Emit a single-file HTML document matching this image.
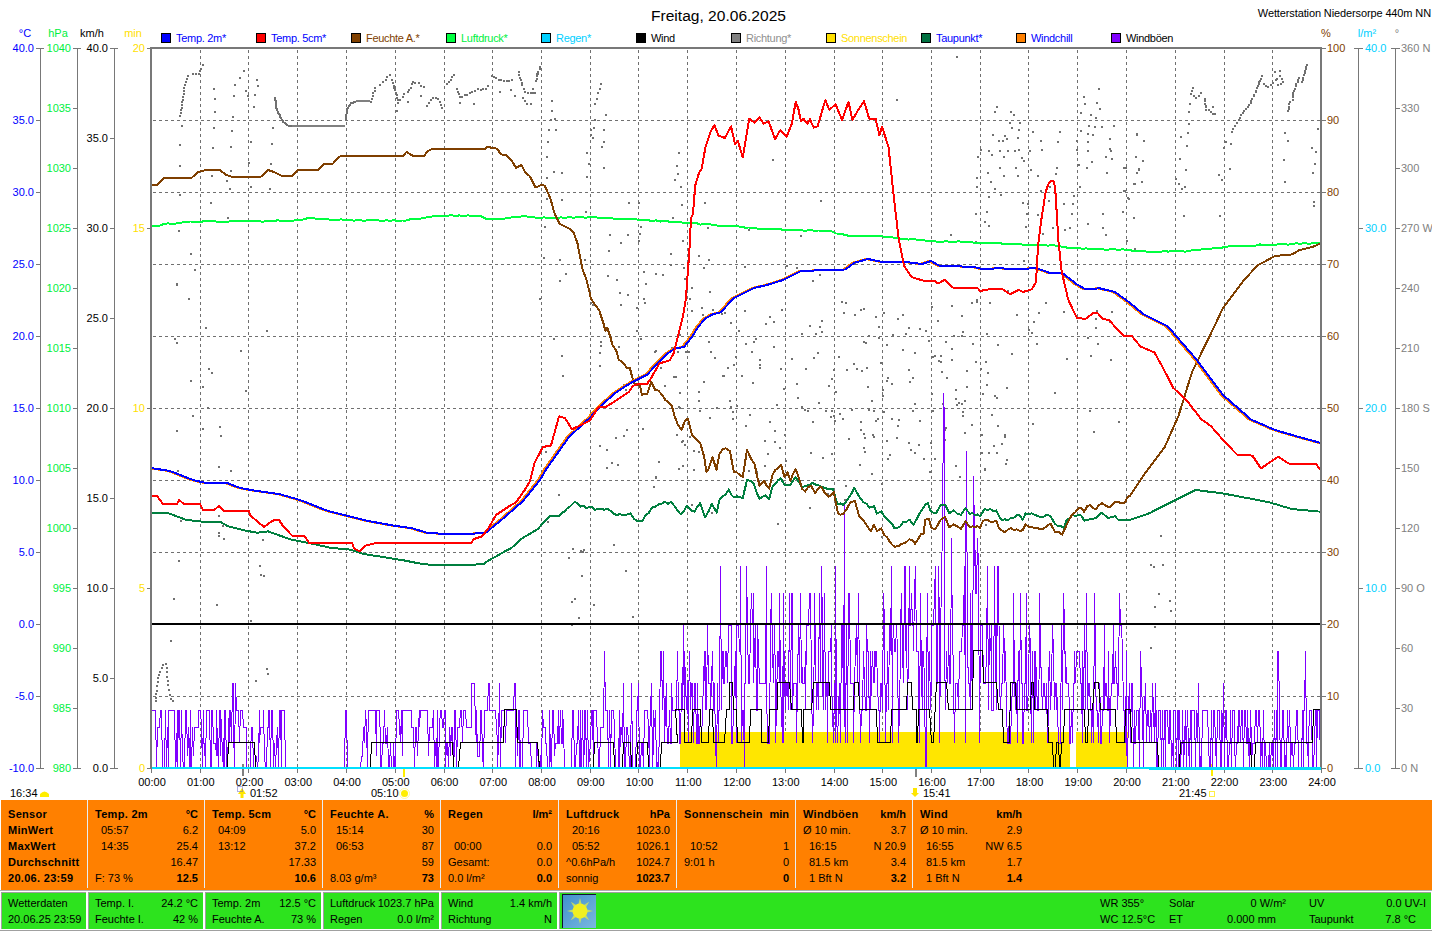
<!DOCTYPE html>
<html><head><meta charset="utf-8"><style>
html,body{margin:0;padding:0;background:#fff;width:1432px;height:931px;overflow:hidden}
svg{display:block}
text{font-family:"Liberation Sans",sans-serif}
</style></head><body>
<svg width="1432" height="931" viewBox="0 0 1432 931">
<text x="651" y="21" fill="#000" font-size="15.5" text-anchor="start" font-weight="normal" textLength="135" lengthAdjust="spacingAndGlyphs">Freitag, 20.06.2025</text>
<text x="1431" y="17" fill="#000" font-size="11" text-anchor="end" font-weight="normal" letter-spacing="-0.12">Wetterstation Niedersorpe 440m NN</text>
<rect x="161.5" y="33.5" width="9" height="9" fill="#0000ff" stroke="#000" stroke-width="1"/>
<text x="176" y="42" fill="#0000ff" font-size="11" text-anchor="start" font-weight="normal" letter-spacing="-0.3">Temp. 2m*</text>
<rect x="256.5" y="33.5" width="9" height="9" fill="#ff0000" stroke="#000" stroke-width="1"/>
<text x="271" y="42" fill="#0000ff" font-size="11" text-anchor="start" font-weight="normal" letter-spacing="-0.3">Temp. 5cm*</text>
<rect x="351.5" y="33.5" width="9" height="9" fill="#804000" stroke="#000" stroke-width="1"/>
<text x="366" y="42" fill="#804000" font-size="11" text-anchor="start" font-weight="normal" letter-spacing="-0.3">Feuchte A.*</text>
<rect x="446.5" y="33.5" width="9" height="9" fill="#00ff40" stroke="#000" stroke-width="1"/>
<text x="461" y="42" fill="#00f040" font-size="11" text-anchor="start" font-weight="normal" letter-spacing="-0.3">Luftdruck*</text>
<rect x="541.5" y="33.5" width="9" height="9" fill="#00d0ff" stroke="#000" stroke-width="1"/>
<text x="556" y="42" fill="#00d0ff" font-size="11" text-anchor="start" font-weight="normal" letter-spacing="-0.3">Regen*</text>
<rect x="636.5" y="33.5" width="9" height="9" fill="#000000" stroke="#000" stroke-width="1"/>
<text x="651" y="42" fill="#000" font-size="11" text-anchor="start" font-weight="normal" letter-spacing="-0.3">Wind</text>
<rect x="731.5" y="33.5" width="9" height="9" fill="#808080" stroke="#000" stroke-width="1"/>
<text x="746" y="42" fill="#909090" font-size="11" text-anchor="start" font-weight="normal" letter-spacing="-0.3">Richtung*</text>
<rect x="826.5" y="33.5" width="9" height="9" fill="#ffe000" stroke="#000" stroke-width="1"/>
<text x="841" y="42" fill="#ffe000" font-size="11" text-anchor="start" font-weight="normal" letter-spacing="-0.3">Sonnenschein</text>
<rect x="921.5" y="33.5" width="9" height="9" fill="#007040" stroke="#000" stroke-width="1"/>
<text x="936" y="42" fill="#0000ff" font-size="11" text-anchor="start" font-weight="normal" letter-spacing="-0.3">Taupunkt*</text>
<rect x="1016.5" y="33.5" width="9" height="9" fill="#ff8000" stroke="#000" stroke-width="1"/>
<text x="1031" y="42" fill="#0000ff" font-size="11" text-anchor="start" font-weight="normal" letter-spacing="-0.3">Windchill</text>
<rect x="1111.5" y="33.5" width="9" height="9" fill="#8000ff" stroke="#000" stroke-width="1"/>
<text x="1126" y="42" fill="#000" font-size="11" text-anchor="start" font-weight="normal" letter-spacing="-0.3">Windböen</text>
<text x="25" y="37" fill="#0000ff" font-size="11" text-anchor="middle" font-weight="normal" >°C</text>
<text x="58" y="37" fill="#00f040" font-size="11" text-anchor="middle" font-weight="normal" >hPa</text>
<text x="92" y="37" fill="#000" font-size="11" text-anchor="middle" font-weight="normal" >km/h</text>
<text x="133" y="37" fill="#ffe000" font-size="11" text-anchor="middle" font-weight="normal" >min</text>
<text x="1326" y="37" fill="#804000" font-size="11" text-anchor="middle" font-weight="normal" >%</text>
<text x="1367" y="37" fill="#00d0ff" font-size="11" text-anchor="middle" font-weight="normal" >l/m²</text>
<text x="1397" y="37" fill="#808080" font-size="11" text-anchor="middle" font-weight="normal" >°</text>
<line x1="40.5" y1="48" x2="40.5" y2="769" stroke="#787878" stroke-width="1"/>
<line x1="40" y1="48.5" x2="44" y2="48.5" stroke="#787878" stroke-width="1"/>
<line x1="40" y1="768.5" x2="44" y2="768.5" stroke="#787878" stroke-width="1"/>
<line x1="77.5" y1="48" x2="77.5" y2="769" stroke="#787878" stroke-width="1"/>
<line x1="77" y1="48.5" x2="81" y2="48.5" stroke="#787878" stroke-width="1"/>
<line x1="77" y1="768.5" x2="81" y2="768.5" stroke="#787878" stroke-width="1"/>
<line x1="114.5" y1="48" x2="114.5" y2="769" stroke="#787878" stroke-width="1"/>
<line x1="114" y1="48.5" x2="118" y2="48.5" stroke="#787878" stroke-width="1"/>
<line x1="114" y1="768.5" x2="118" y2="768.5" stroke="#787878" stroke-width="1"/>
<line x1="36" y1="48.5" x2="41" y2="48.5" stroke="#787878" stroke-width="1"/>
<text x="34" y="52" fill="#0000ff" font-size="11" text-anchor="end" font-weight="normal" >40.0</text>
<line x1="36" y1="120.5" x2="41" y2="120.5" stroke="#787878" stroke-width="1"/>
<text x="34" y="124" fill="#0000ff" font-size="11" text-anchor="end" font-weight="normal" >35.0</text>
<line x1="36" y1="192.5" x2="41" y2="192.5" stroke="#787878" stroke-width="1"/>
<text x="34" y="196" fill="#0000ff" font-size="11" text-anchor="end" font-weight="normal" >30.0</text>
<line x1="36" y1="264.5" x2="41" y2="264.5" stroke="#787878" stroke-width="1"/>
<text x="34" y="268" fill="#0000ff" font-size="11" text-anchor="end" font-weight="normal" >25.0</text>
<line x1="36" y1="336.5" x2="41" y2="336.5" stroke="#787878" stroke-width="1"/>
<text x="34" y="340" fill="#0000ff" font-size="11" text-anchor="end" font-weight="normal" >20.0</text>
<line x1="36" y1="408.5" x2="41" y2="408.5" stroke="#787878" stroke-width="1"/>
<text x="34" y="412" fill="#0000ff" font-size="11" text-anchor="end" font-weight="normal" >15.0</text>
<line x1="36" y1="480.5" x2="41" y2="480.5" stroke="#787878" stroke-width="1"/>
<text x="34" y="484" fill="#0000ff" font-size="11" text-anchor="end" font-weight="normal" >10.0</text>
<line x1="36" y1="552.5" x2="41" y2="552.5" stroke="#787878" stroke-width="1"/>
<text x="34" y="556" fill="#0000ff" font-size="11" text-anchor="end" font-weight="normal" >5.0</text>
<line x1="36" y1="624.5" x2="41" y2="624.5" stroke="#787878" stroke-width="1"/>
<text x="34" y="628" fill="#0000ff" font-size="11" text-anchor="end" font-weight="normal" >0.0</text>
<line x1="36" y1="696.5" x2="41" y2="696.5" stroke="#787878" stroke-width="1"/>
<text x="34" y="700" fill="#0000ff" font-size="11" text-anchor="end" font-weight="normal" >-5.0</text>
<line x1="36" y1="768.5" x2="41" y2="768.5" stroke="#787878" stroke-width="1"/>
<text x="34" y="772" fill="#0000ff" font-size="11" text-anchor="end" font-weight="normal" >-10.0</text>
<line x1="73" y1="48.5" x2="78" y2="48.5" stroke="#787878" stroke-width="1"/>
<text x="71" y="52" fill="#00f040" font-size="11" text-anchor="end" font-weight="normal" >1040</text>
<line x1="73" y1="108.5" x2="78" y2="108.5" stroke="#787878" stroke-width="1"/>
<text x="71" y="112" fill="#00f040" font-size="11" text-anchor="end" font-weight="normal" >1035</text>
<line x1="73" y1="168.5" x2="78" y2="168.5" stroke="#787878" stroke-width="1"/>
<text x="71" y="172" fill="#00f040" font-size="11" text-anchor="end" font-weight="normal" >1030</text>
<line x1="73" y1="228.5" x2="78" y2="228.5" stroke="#787878" stroke-width="1"/>
<text x="71" y="232" fill="#00f040" font-size="11" text-anchor="end" font-weight="normal" >1025</text>
<line x1="73" y1="288.5" x2="78" y2="288.5" stroke="#787878" stroke-width="1"/>
<text x="71" y="292" fill="#00f040" font-size="11" text-anchor="end" font-weight="normal" >1020</text>
<line x1="73" y1="348.5" x2="78" y2="348.5" stroke="#787878" stroke-width="1"/>
<text x="71" y="352" fill="#00f040" font-size="11" text-anchor="end" font-weight="normal" >1015</text>
<line x1="73" y1="408.5" x2="78" y2="408.5" stroke="#787878" stroke-width="1"/>
<text x="71" y="412" fill="#00f040" font-size="11" text-anchor="end" font-weight="normal" >1010</text>
<line x1="73" y1="468.5" x2="78" y2="468.5" stroke="#787878" stroke-width="1"/>
<text x="71" y="472" fill="#00f040" font-size="11" text-anchor="end" font-weight="normal" >1005</text>
<line x1="73" y1="528.5" x2="78" y2="528.5" stroke="#787878" stroke-width="1"/>
<text x="71" y="532" fill="#00f040" font-size="11" text-anchor="end" font-weight="normal" >1000</text>
<line x1="73" y1="588.5" x2="78" y2="588.5" stroke="#787878" stroke-width="1"/>
<text x="71" y="592" fill="#00f040" font-size="11" text-anchor="end" font-weight="normal" >995</text>
<line x1="73" y1="648.5" x2="78" y2="648.5" stroke="#787878" stroke-width="1"/>
<text x="71" y="652" fill="#00f040" font-size="11" text-anchor="end" font-weight="normal" >990</text>
<line x1="73" y1="708.5" x2="78" y2="708.5" stroke="#787878" stroke-width="1"/>
<text x="71" y="712" fill="#00f040" font-size="11" text-anchor="end" font-weight="normal" >985</text>
<line x1="73" y1="768.5" x2="78" y2="768.5" stroke="#787878" stroke-width="1"/>
<text x="71" y="772" fill="#00f040" font-size="11" text-anchor="end" font-weight="normal" >980</text>
<line x1="110" y1="48.5" x2="115" y2="48.5" stroke="#787878" stroke-width="1"/>
<text x="108" y="52" fill="#000" font-size="11" text-anchor="end" font-weight="normal" >40.0</text>
<line x1="110" y1="138.5" x2="115" y2="138.5" stroke="#787878" stroke-width="1"/>
<text x="108" y="142" fill="#000" font-size="11" text-anchor="end" font-weight="normal" >35.0</text>
<line x1="110" y1="228.5" x2="115" y2="228.5" stroke="#787878" stroke-width="1"/>
<text x="108" y="232" fill="#000" font-size="11" text-anchor="end" font-weight="normal" >30.0</text>
<line x1="110" y1="318.5" x2="115" y2="318.5" stroke="#787878" stroke-width="1"/>
<text x="108" y="322" fill="#000" font-size="11" text-anchor="end" font-weight="normal" >25.0</text>
<line x1="110" y1="408.5" x2="115" y2="408.5" stroke="#787878" stroke-width="1"/>
<text x="108" y="412" fill="#000" font-size="11" text-anchor="end" font-weight="normal" >20.0</text>
<line x1="110" y1="498.5" x2="115" y2="498.5" stroke="#787878" stroke-width="1"/>
<text x="108" y="502" fill="#000" font-size="11" text-anchor="end" font-weight="normal" >15.0</text>
<line x1="110" y1="588.5" x2="115" y2="588.5" stroke="#787878" stroke-width="1"/>
<text x="108" y="592" fill="#000" font-size="11" text-anchor="end" font-weight="normal" >10.0</text>
<line x1="110" y1="678.5" x2="115" y2="678.5" stroke="#787878" stroke-width="1"/>
<text x="108" y="682" fill="#000" font-size="11" text-anchor="end" font-weight="normal" >5.0</text>
<line x1="110" y1="768.5" x2="115" y2="768.5" stroke="#787878" stroke-width="1"/>
<text x="108" y="772" fill="#000" font-size="11" text-anchor="end" font-weight="normal" >0.0</text>
<line x1="147" y1="48.5" x2="151" y2="48.5" stroke="#787878" stroke-width="1"/>
<text x="145" y="52" fill="#ffe000" font-size="11" text-anchor="end" font-weight="normal" >20</text>
<line x1="147" y1="228.5" x2="151" y2="228.5" stroke="#787878" stroke-width="1"/>
<text x="145" y="232" fill="#ffe000" font-size="11" text-anchor="end" font-weight="normal" >15</text>
<line x1="147" y1="408.5" x2="151" y2="408.5" stroke="#787878" stroke-width="1"/>
<text x="145" y="412" fill="#ffe000" font-size="11" text-anchor="end" font-weight="normal" >10</text>
<line x1="147" y1="588.5" x2="151" y2="588.5" stroke="#787878" stroke-width="1"/>
<text x="145" y="592" fill="#ffe000" font-size="11" text-anchor="end" font-weight="normal" >5</text>
<line x1="147" y1="768.5" x2="151" y2="768.5" stroke="#787878" stroke-width="1"/>
<text x="145" y="772" fill="#ffe000" font-size="11" text-anchor="end" font-weight="normal" >0</text>
<line x1="1358.5" y1="48" x2="1358.5" y2="769" stroke="#787878" stroke-width="1"/>
<line x1="1354" y1="48.5" x2="1358" y2="48.5" stroke="#787878" stroke-width="1"/>
<line x1="1354" y1="768.5" x2="1358" y2="768.5" stroke="#787878" stroke-width="1"/>
<line x1="1395.5" y1="48" x2="1395.5" y2="769" stroke="#787878" stroke-width="1"/>
<line x1="1391" y1="48.5" x2="1395" y2="48.5" stroke="#787878" stroke-width="1"/>
<line x1="1391" y1="768.5" x2="1395" y2="768.5" stroke="#787878" stroke-width="1"/>
<line x1="1321" y1="48.5" x2="1326" y2="48.5" stroke="#787878" stroke-width="1"/>
<text x="1327" y="52" fill="#804000" font-size="11" text-anchor="start" font-weight="normal" >100</text>
<line x1="1321" y1="120.5" x2="1326" y2="120.5" stroke="#787878" stroke-width="1"/>
<text x="1327" y="124" fill="#804000" font-size="11" text-anchor="start" font-weight="normal" >90</text>
<line x1="1321" y1="192.5" x2="1326" y2="192.5" stroke="#787878" stroke-width="1"/>
<text x="1327" y="196" fill="#804000" font-size="11" text-anchor="start" font-weight="normal" >80</text>
<line x1="1321" y1="264.5" x2="1326" y2="264.5" stroke="#787878" stroke-width="1"/>
<text x="1327" y="268" fill="#804000" font-size="11" text-anchor="start" font-weight="normal" >70</text>
<line x1="1321" y1="336.5" x2="1326" y2="336.5" stroke="#787878" stroke-width="1"/>
<text x="1327" y="340" fill="#804000" font-size="11" text-anchor="start" font-weight="normal" >60</text>
<line x1="1321" y1="408.5" x2="1326" y2="408.5" stroke="#787878" stroke-width="1"/>
<text x="1327" y="412" fill="#804000" font-size="11" text-anchor="start" font-weight="normal" >50</text>
<line x1="1321" y1="480.5" x2="1326" y2="480.5" stroke="#787878" stroke-width="1"/>
<text x="1327" y="484" fill="#804000" font-size="11" text-anchor="start" font-weight="normal" >40</text>
<line x1="1321" y1="552.5" x2="1326" y2="552.5" stroke="#787878" stroke-width="1"/>
<text x="1327" y="556" fill="#804000" font-size="11" text-anchor="start" font-weight="normal" >30</text>
<line x1="1321" y1="624.5" x2="1326" y2="624.5" stroke="#787878" stroke-width="1"/>
<text x="1327" y="628" fill="#804000" font-size="11" text-anchor="start" font-weight="normal" >20</text>
<line x1="1321" y1="696.5" x2="1326" y2="696.5" stroke="#787878" stroke-width="1"/>
<text x="1327" y="700" fill="#804000" font-size="11" text-anchor="start" font-weight="normal" >10</text>
<line x1="1321" y1="768.5" x2="1326" y2="768.5" stroke="#787878" stroke-width="1"/>
<text x="1327" y="772" fill="#804000" font-size="11" text-anchor="start" font-weight="normal" >0</text>
<line x1="1358" y1="48.5" x2="1363" y2="48.5" stroke="#787878" stroke-width="1"/>
<text x="1365" y="52" fill="#00d0ff" font-size="11" text-anchor="start" font-weight="normal" >40.0</text>
<line x1="1358" y1="228.5" x2="1363" y2="228.5" stroke="#787878" stroke-width="1"/>
<text x="1365" y="232" fill="#00d0ff" font-size="11" text-anchor="start" font-weight="normal" >30.0</text>
<line x1="1358" y1="408.5" x2="1363" y2="408.5" stroke="#787878" stroke-width="1"/>
<text x="1365" y="412" fill="#00d0ff" font-size="11" text-anchor="start" font-weight="normal" >20.0</text>
<line x1="1358" y1="588.5" x2="1363" y2="588.5" stroke="#787878" stroke-width="1"/>
<text x="1365" y="592" fill="#00d0ff" font-size="11" text-anchor="start" font-weight="normal" >10.0</text>
<line x1="1358" y1="768.5" x2="1363" y2="768.5" stroke="#787878" stroke-width="1"/>
<text x="1365" y="772" fill="#00d0ff" font-size="11" text-anchor="start" font-weight="normal" >0.0</text>
<line x1="1395" y1="48.5" x2="1400" y2="48.5" stroke="#787878" stroke-width="1"/>
<text x="1401" y="52" fill="#808080" font-size="11" text-anchor="start" font-weight="normal" >360 N</text>
<line x1="1395" y1="108.5" x2="1400" y2="108.5" stroke="#787878" stroke-width="1"/>
<text x="1401" y="112" fill="#808080" font-size="11" text-anchor="start" font-weight="normal" >330</text>
<line x1="1395" y1="168.5" x2="1400" y2="168.5" stroke="#787878" stroke-width="1"/>
<text x="1401" y="172" fill="#808080" font-size="11" text-anchor="start" font-weight="normal" >300</text>
<line x1="1395" y1="228.5" x2="1400" y2="228.5" stroke="#787878" stroke-width="1"/>
<text x="1401" y="232" fill="#808080" font-size="11" text-anchor="start" font-weight="normal" >270 W</text>
<line x1="1395" y1="288.5" x2="1400" y2="288.5" stroke="#787878" stroke-width="1"/>
<text x="1401" y="292" fill="#808080" font-size="11" text-anchor="start" font-weight="normal" >240</text>
<line x1="1395" y1="348.5" x2="1400" y2="348.5" stroke="#787878" stroke-width="1"/>
<text x="1401" y="352" fill="#808080" font-size="11" text-anchor="start" font-weight="normal" >210</text>
<line x1="1395" y1="408.5" x2="1400" y2="408.5" stroke="#787878" stroke-width="1"/>
<text x="1401" y="412" fill="#808080" font-size="11" text-anchor="start" font-weight="normal" >180 S</text>
<line x1="1395" y1="468.5" x2="1400" y2="468.5" stroke="#787878" stroke-width="1"/>
<text x="1401" y="472" fill="#808080" font-size="11" text-anchor="start" font-weight="normal" >150</text>
<line x1="1395" y1="528.5" x2="1400" y2="528.5" stroke="#787878" stroke-width="1"/>
<text x="1401" y="532" fill="#808080" font-size="11" text-anchor="start" font-weight="normal" >120</text>
<line x1="1395" y1="588.5" x2="1400" y2="588.5" stroke="#787878" stroke-width="1"/>
<text x="1401" y="592" fill="#808080" font-size="11" text-anchor="start" font-weight="normal" >90 O</text>
<line x1="1395" y1="648.5" x2="1400" y2="648.5" stroke="#787878" stroke-width="1"/>
<text x="1401" y="652" fill="#808080" font-size="11" text-anchor="start" font-weight="normal" >60</text>
<line x1="1395" y1="708.5" x2="1400" y2="708.5" stroke="#787878" stroke-width="1"/>
<text x="1401" y="712" fill="#808080" font-size="11" text-anchor="start" font-weight="normal" >30</text>
<line x1="1395" y1="768.5" x2="1400" y2="768.5" stroke="#787878" stroke-width="1"/>
<text x="1401" y="772" fill="#808080" font-size="11" text-anchor="start" font-weight="normal" >0 N</text>
<g shape-rendering="crispEdges">
<line x1="153" y1="120.5" x2="1320" y2="120.5" stroke="#707070" stroke-width="1" stroke-dasharray="3 3"/>
<line x1="153" y1="192.5" x2="1320" y2="192.5" stroke="#707070" stroke-width="1" stroke-dasharray="3 3"/>
<line x1="153" y1="264.5" x2="1320" y2="264.5" stroke="#707070" stroke-width="1" stroke-dasharray="3 3"/>
<line x1="153" y1="336.5" x2="1320" y2="336.5" stroke="#707070" stroke-width="1" stroke-dasharray="3 3"/>
<line x1="153" y1="408.5" x2="1320" y2="408.5" stroke="#707070" stroke-width="1" stroke-dasharray="3 3"/>
<line x1="153" y1="480.5" x2="1320" y2="480.5" stroke="#707070" stroke-width="1" stroke-dasharray="3 3"/>
<line x1="153" y1="552.5" x2="1320" y2="552.5" stroke="#707070" stroke-width="1" stroke-dasharray="3 3"/>
<line x1="153" y1="696.5" x2="1320" y2="696.5" stroke="#707070" stroke-width="1" stroke-dasharray="3 3"/>
<line x1="200.5" y1="50" x2="200.5" y2="768" stroke="#707070" stroke-width="1" stroke-dasharray="3 3"/>
<line x1="248.5" y1="50" x2="248.5" y2="768" stroke="#707070" stroke-width="1" stroke-dasharray="3 3"/>
<line x1="297.5" y1="50" x2="297.5" y2="768" stroke="#707070" stroke-width="1" stroke-dasharray="3 3"/>
<line x1="346.5" y1="50" x2="346.5" y2="768" stroke="#707070" stroke-width="1" stroke-dasharray="3 3"/>
<line x1="395.5" y1="50" x2="395.5" y2="768" stroke="#707070" stroke-width="1" stroke-dasharray="3 3"/>
<line x1="444.5" y1="50" x2="444.5" y2="768" stroke="#707070" stroke-width="1" stroke-dasharray="3 3"/>
<line x1="492.5" y1="50" x2="492.5" y2="768" stroke="#707070" stroke-width="1" stroke-dasharray="3 3"/>
<line x1="541.5" y1="50" x2="541.5" y2="768" stroke="#707070" stroke-width="1" stroke-dasharray="3 3"/>
<line x1="590.5" y1="50" x2="590.5" y2="768" stroke="#707070" stroke-width="1" stroke-dasharray="3 3"/>
<line x1="638.5" y1="50" x2="638.5" y2="768" stroke="#707070" stroke-width="1" stroke-dasharray="3 3"/>
<line x1="687.5" y1="50" x2="687.5" y2="768" stroke="#707070" stroke-width="1" stroke-dasharray="3 3"/>
<line x1="736.5" y1="50" x2="736.5" y2="768" stroke="#707070" stroke-width="1" stroke-dasharray="3 3"/>
<line x1="785.5" y1="50" x2="785.5" y2="768" stroke="#707070" stroke-width="1" stroke-dasharray="3 3"/>
<line x1="834.5" y1="50" x2="834.5" y2="768" stroke="#707070" stroke-width="1" stroke-dasharray="3 3"/>
<line x1="882.5" y1="50" x2="882.5" y2="768" stroke="#707070" stroke-width="1" stroke-dasharray="3 3"/>
<line x1="931.5" y1="50" x2="931.5" y2="768" stroke="#707070" stroke-width="1" stroke-dasharray="3 3"/>
<line x1="980.5" y1="50" x2="980.5" y2="768" stroke="#707070" stroke-width="1" stroke-dasharray="3 3"/>
<line x1="1028.5" y1="50" x2="1028.5" y2="768" stroke="#707070" stroke-width="1" stroke-dasharray="3 3"/>
<line x1="1077.5" y1="50" x2="1077.5" y2="768" stroke="#707070" stroke-width="1" stroke-dasharray="3 3"/>
<line x1="1126.5" y1="50" x2="1126.5" y2="768" stroke="#707070" stroke-width="1" stroke-dasharray="3 3"/>
<line x1="1175.5" y1="50" x2="1175.5" y2="768" stroke="#707070" stroke-width="1" stroke-dasharray="3 3"/>
<line x1="1224.5" y1="50" x2="1224.5" y2="768" stroke="#707070" stroke-width="1" stroke-dasharray="3 3"/>
<line x1="1272.5" y1="50" x2="1272.5" y2="768" stroke="#707070" stroke-width="1" stroke-dasharray="3 3"/>
</g>
<line x1="151.5" y1="768" x2="151.5" y2="773" stroke="#787878" stroke-width="1"/>
<text x="152.0" y="786" fill="#000" font-size="11" text-anchor="middle" font-weight="normal" >00:00</text>
<line x1="200.5" y1="768" x2="200.5" y2="773" stroke="#787878" stroke-width="1"/>
<text x="200.75" y="786" fill="#000" font-size="11" text-anchor="middle" font-weight="normal" >01:00</text>
<line x1="248.5" y1="768" x2="248.5" y2="773" stroke="#787878" stroke-width="1"/>
<text x="249.5" y="786" fill="#000" font-size="11" text-anchor="middle" font-weight="normal" >02:00</text>
<line x1="297.5" y1="768" x2="297.5" y2="773" stroke="#787878" stroke-width="1"/>
<text x="298.25" y="786" fill="#000" font-size="11" text-anchor="middle" font-weight="normal" >03:00</text>
<line x1="346.5" y1="768" x2="346.5" y2="773" stroke="#787878" stroke-width="1"/>
<text x="347.0" y="786" fill="#000" font-size="11" text-anchor="middle" font-weight="normal" >04:00</text>
<line x1="395.5" y1="768" x2="395.5" y2="773" stroke="#787878" stroke-width="1"/>
<text x="395.75" y="786" fill="#000" font-size="11" text-anchor="middle" font-weight="normal" >05:00</text>
<line x1="444.5" y1="768" x2="444.5" y2="773" stroke="#787878" stroke-width="1"/>
<text x="444.5" y="786" fill="#000" font-size="11" text-anchor="middle" font-weight="normal" >06:00</text>
<line x1="492.5" y1="768" x2="492.5" y2="773" stroke="#787878" stroke-width="1"/>
<text x="493.25" y="786" fill="#000" font-size="11" text-anchor="middle" font-weight="normal" >07:00</text>
<line x1="541.5" y1="768" x2="541.5" y2="773" stroke="#787878" stroke-width="1"/>
<text x="542.0" y="786" fill="#000" font-size="11" text-anchor="middle" font-weight="normal" >08:00</text>
<line x1="590.5" y1="768" x2="590.5" y2="773" stroke="#787878" stroke-width="1"/>
<text x="590.75" y="786" fill="#000" font-size="11" text-anchor="middle" font-weight="normal" >09:00</text>
<line x1="638.5" y1="768" x2="638.5" y2="773" stroke="#787878" stroke-width="1"/>
<text x="639.5" y="786" fill="#000" font-size="11" text-anchor="middle" font-weight="normal" >10:00</text>
<line x1="687.5" y1="768" x2="687.5" y2="773" stroke="#787878" stroke-width="1"/>
<text x="688.25" y="786" fill="#000" font-size="11" text-anchor="middle" font-weight="normal" >11:00</text>
<line x1="736.5" y1="768" x2="736.5" y2="773" stroke="#787878" stroke-width="1"/>
<text x="737.0" y="786" fill="#000" font-size="11" text-anchor="middle" font-weight="normal" >12:00</text>
<line x1="785.5" y1="768" x2="785.5" y2="773" stroke="#787878" stroke-width="1"/>
<text x="785.75" y="786" fill="#000" font-size="11" text-anchor="middle" font-weight="normal" >13:00</text>
<line x1="834.5" y1="768" x2="834.5" y2="773" stroke="#787878" stroke-width="1"/>
<text x="834.5" y="786" fill="#000" font-size="11" text-anchor="middle" font-weight="normal" >14:00</text>
<line x1="882.5" y1="768" x2="882.5" y2="773" stroke="#787878" stroke-width="1"/>
<text x="883.25" y="786" fill="#000" font-size="11" text-anchor="middle" font-weight="normal" >15:00</text>
<line x1="931.5" y1="768" x2="931.5" y2="773" stroke="#787878" stroke-width="1"/>
<text x="932.0" y="786" fill="#000" font-size="11" text-anchor="middle" font-weight="normal" >16:00</text>
<line x1="980.5" y1="768" x2="980.5" y2="773" stroke="#787878" stroke-width="1"/>
<text x="980.75" y="786" fill="#000" font-size="11" text-anchor="middle" font-weight="normal" >17:00</text>
<line x1="1028.5" y1="768" x2="1028.5" y2="773" stroke="#787878" stroke-width="1"/>
<text x="1029.5" y="786" fill="#000" font-size="11" text-anchor="middle" font-weight="normal" >18:00</text>
<line x1="1077.5" y1="768" x2="1077.5" y2="773" stroke="#787878" stroke-width="1"/>
<text x="1078.25" y="786" fill="#000" font-size="11" text-anchor="middle" font-weight="normal" >19:00</text>
<line x1="1126.5" y1="768" x2="1126.5" y2="773" stroke="#787878" stroke-width="1"/>
<text x="1127.0" y="786" fill="#000" font-size="11" text-anchor="middle" font-weight="normal" >20:00</text>
<line x1="1175.5" y1="768" x2="1175.5" y2="773" stroke="#787878" stroke-width="1"/>
<text x="1175.75" y="786" fill="#000" font-size="11" text-anchor="middle" font-weight="normal" >21:00</text>
<line x1="1224.5" y1="768" x2="1224.5" y2="773" stroke="#787878" stroke-width="1"/>
<text x="1224.5" y="786" fill="#000" font-size="11" text-anchor="middle" font-weight="normal" >22:00</text>
<line x1="1272.5" y1="768" x2="1272.5" y2="773" stroke="#787878" stroke-width="1"/>
<text x="1273.25" y="786" fill="#000" font-size="11" text-anchor="middle" font-weight="normal" >23:00</text>
<line x1="1321.5" y1="768" x2="1321.5" y2="773" stroke="#787878" stroke-width="1"/>
<text x="1322.0" y="786" fill="#000" font-size="11" text-anchor="middle" font-weight="normal" >24:00</text>
<text x="10" y="797" fill="#000" font-size="11" text-anchor="start" font-weight="normal" >16:34</text>
<path d="M40,797 L40,794 Q44.5,789 49,794 L49,797 Z" fill="#ffee00"/>
<rect x="242" y="764" width="2" height="12" fill="#808080" shape-rendering="crispEdges"/>
<path d="M242,788 L238,794 L240.5,794 L240.5,798 L243.5,798 L243.5,794 L246,794 Z" fill="#ffe600"/>
<rect x="237.5" y="786.5" width="5" height="5" fill="none" stroke="#6060c0" stroke-width="1" stroke-dasharray="1 1"/>
<text x="250" y="797" fill="#000" font-size="11" text-anchor="start" font-weight="normal" >01:52</text>
<rect x="403" y="768" width="2" height="9" fill="#ffee00" shape-rendering="crispEdges"/>
<text x="371" y="797" fill="#000" font-size="11" text-anchor="start" font-weight="normal" >05:10</text>
<circle cx="404.5" cy="793.5" r="3.5" fill="#ffee00"/><circle cx="404.5" cy="793.5" r="5" fill="none" stroke="#fff8a0" stroke-width="1"/>
<rect x="915" y="768" width="2" height="9" fill="#808080" shape-rendering="crispEdges"/>
<path d="M913,788 L917,788 L917,793 L919,793 L915,797 L911,793 L913,793 Z" fill="#ffe600"/>
<text x="923" y="797" fill="#000" font-size="11" text-anchor="start" font-weight="normal" >15:41</text>
<rect x="1211" y="764" width="2" height="12" fill="#ffee00" shape-rendering="crispEdges"/>
<text x="1179" y="797" fill="#000" font-size="11" text-anchor="start" font-weight="normal" >21:45</text>
<rect x="1209.5" y="791.5" width="5" height="5" fill="none" stroke="#ffee44" stroke-width="1"/>
<g shape-rendering="crispEdges">
<rect x="680" y="732" width="390" height="36" fill="#ffe600"/>
<rect x="1076" y="732" width="52" height="36" fill="#ffe600"/>
</g>
<g fill="#707070" shape-rendering="crispEdges">
<rect x="292" y="125" width="53" height="2" fill="#808080"/>
<rect x="356" y="100" width="14" height="2" fill="#808080"/>
<rect x="179" y="115" width="2" height="2"/>
<rect x="180" y="112" width="2" height="2"/>
<rect x="180" y="109" width="2" height="2"/>
<rect x="181" y="107" width="2" height="2"/>
<rect x="181" y="104" width="2" height="2"/>
<rect x="181" y="101" width="2" height="2"/>
<rect x="182" y="99" width="2" height="2"/>
<rect x="182" y="96" width="2" height="2"/>
<rect x="183" y="93" width="2" height="2"/>
<rect x="183" y="90" width="2" height="2"/>
<rect x="183" y="87" width="2" height="2"/>
<rect x="184" y="84" width="2" height="2"/>
<rect x="185" y="81" width="2" height="2"/>
<rect x="186" y="78" width="2" height="2"/>
<rect x="187" y="75" width="2" height="2"/>
<rect x="192" y="73" width="2" height="2"/>
<rect x="195" y="73" width="2" height="2"/>
<rect x="198" y="73" width="2" height="2"/>
<rect x="199" y="70" width="2" height="2"/>
<rect x="200" y="68" width="2" height="2"/>
<rect x="202" y="64" width="2" height="2"/>
<rect x="274" y="97" width="2" height="2"/>
<rect x="274" y="99" width="2" height="2"/>
<rect x="275" y="100" width="2" height="2"/>
<rect x="275" y="101" width="2" height="2"/>
<rect x="275" y="103" width="2" height="2"/>
<rect x="275" y="104" width="2" height="2"/>
<rect x="275" y="105" width="2" height="2"/>
<rect x="275" y="107" width="2" height="2"/>
<rect x="276" y="108" width="2" height="2"/>
<rect x="276" y="109" width="2" height="2"/>
<rect x="277" y="111" width="2" height="2"/>
<rect x="277" y="112" width="2" height="2"/>
<rect x="278" y="113" width="2" height="2"/>
<rect x="279" y="114" width="2" height="2"/>
<rect x="279" y="116" width="2" height="2"/>
<rect x="280" y="117" width="2" height="2"/>
<rect x="281" y="119" width="2" height="2"/>
<rect x="282" y="120" width="2" height="2"/>
<rect x="282" y="121" width="2" height="2"/>
<rect x="284" y="122" width="2" height="2"/>
<rect x="285" y="123" width="2" height="2"/>
<rect x="286" y="124" width="2" height="2"/>
<rect x="288" y="125" width="2" height="2"/>
<rect x="289" y="125" width="2" height="2"/>
<rect x="290" y="125" width="2" height="2"/>
<rect x="345" y="118" width="2" height="2"/>
<rect x="345" y="117" width="2" height="2"/>
<rect x="345" y="116" width="2" height="2"/>
<rect x="345" y="115" width="2" height="2"/>
<rect x="345" y="114" width="2" height="2"/>
<rect x="346" y="112" width="2" height="2"/>
<rect x="346" y="111" width="2" height="2"/>
<rect x="346" y="110" width="2" height="2"/>
<rect x="346" y="109" width="2" height="2"/>
<rect x="346" y="108" width="2" height="2"/>
<rect x="347" y="107" width="2" height="2"/>
<rect x="348" y="105" width="2" height="2"/>
<rect x="349" y="104" width="2" height="2"/>
<rect x="350" y="102" width="2" height="2"/>
<rect x="352" y="102" width="2" height="2"/>
<rect x="353" y="101" width="2" height="2"/>
<rect x="354" y="101" width="2" height="2"/>
<rect x="181" y="125" width="2" height="2"/>
<rect x="179" y="144" width="2" height="2"/>
<rect x="179" y="165" width="2" height="2"/>
<rect x="179" y="194" width="2" height="2"/>
<rect x="178" y="230" width="2" height="2"/>
<rect x="176" y="283" width="2" height="2"/>
<rect x="174" y="338" width="2" height="2"/>
<rect x="176" y="430" width="2" height="2"/>
<rect x="177" y="470" width="2" height="2"/>
<rect x="180" y="520" width="2" height="2"/>
<rect x="178" y="560" width="2" height="2"/>
<rect x="173" y="598" width="2" height="2"/>
<rect x="170" y="640" width="2" height="2"/>
<rect x="172" y="700" width="2" height="2"/>
<rect x="190" y="380" width="2" height="2"/>
<rect x="192" y="415" width="2" height="2"/>
<rect x="213" y="88" width="2" height="2"/>
<rect x="214" y="98" width="2" height="2"/>
<rect x="214" y="111" width="2" height="2"/>
<rect x="213" y="127" width="2" height="2"/>
<rect x="212" y="147" width="2" height="2"/>
<rect x="211" y="175" width="2" height="2"/>
<rect x="210" y="202" width="2" height="2"/>
<rect x="234" y="84" width="2" height="2"/>
<rect x="239" y="77" width="2" height="2"/>
<rect x="243" y="70" width="2" height="2"/>
<rect x="245" y="90" width="2" height="2"/>
<rect x="247" y="95" width="2" height="2"/>
<rect x="254" y="94" width="2" height="2"/>
<rect x="256" y="79" width="2" height="2"/>
<rect x="257" y="85" width="2" height="2"/>
<rect x="233" y="95" width="2" height="2"/>
<rect x="232" y="116" width="2" height="2"/>
<rect x="231" y="130" width="2" height="2"/>
<rect x="230" y="146" width="2" height="2"/>
<rect x="230" y="170" width="2" height="2"/>
<rect x="229" y="188" width="2" height="2"/>
<rect x="253" y="106" width="2" height="2"/>
<rect x="250" y="141" width="2" height="2"/>
<rect x="248" y="162" width="2" height="2"/>
<rect x="250" y="186" width="2" height="2"/>
<rect x="226" y="180" width="2" height="2"/>
<rect x="227" y="217" width="2" height="2"/>
<rect x="269" y="188" width="2" height="2"/>
<rect x="270" y="163" width="2" height="2"/>
<rect x="271" y="143" width="2" height="2"/>
<rect x="272" y="127" width="2" height="2"/>
<rect x="240" y="350" width="2" height="2"/>
<rect x="245" y="390" width="2" height="2"/>
<rect x="263" y="575" width="2" height="2"/>
<rect x="250" y="620" width="2" height="2"/>
<rect x="255" y="680" width="2" height="2"/>
<rect x="230" y="470" width="2" height="2"/>
<rect x="222" y="525" width="2" height="2"/>
<rect x="266" y="330" width="2" height="2"/>
<rect x="155" y="700" width="2" height="2"/>
<rect x="155" y="697" width="2" height="2"/>
<rect x="155" y="693" width="2" height="2"/>
<rect x="156" y="690" width="2" height="2"/>
<rect x="156" y="685" width="2" height="2"/>
<rect x="157" y="681" width="2" height="2"/>
<rect x="157" y="677" width="2" height="2"/>
<rect x="158" y="674" width="2" height="2"/>
<rect x="159" y="671" width="2" height="2"/>
<rect x="161" y="667" width="2" height="2"/>
<rect x="162" y="664" width="2" height="2"/>
<rect x="165" y="663" width="2" height="2"/>
<rect x="166" y="667" width="2" height="2"/>
<rect x="166" y="671" width="2" height="2"/>
<rect x="166" y="676" width="2" height="2"/>
<rect x="167" y="680" width="2" height="2"/>
<rect x="167" y="684" width="2" height="2"/>
<rect x="168" y="689" width="2" height="2"/>
<rect x="169" y="694" width="2" height="2"/>
<rect x="170" y="698" width="2" height="2"/>
<rect x="370" y="101" width="2" height="2"/>
<rect x="371" y="98" width="2" height="2"/>
<rect x="372" y="95" width="2" height="2"/>
<rect x="372" y="92" width="2" height="2"/>
<rect x="374" y="90" width="2" height="2"/>
<rect x="374" y="87" width="2" height="2"/>
<rect x="379" y="84" width="2" height="2"/>
<rect x="382" y="81" width="2" height="2"/>
<rect x="385" y="79" width="2" height="2"/>
<rect x="386" y="76" width="2" height="2"/>
<rect x="389" y="74" width="2" height="2"/>
<rect x="391" y="79" width="2" height="2"/>
<rect x="392" y="82" width="2" height="2"/>
<rect x="393" y="85" width="2" height="2"/>
<rect x="393" y="87" width="2" height="2"/>
<rect x="394" y="89" width="2" height="2"/>
<rect x="395" y="92" width="2" height="2"/>
<rect x="396" y="94" width="2" height="2"/>
<rect x="396" y="97" width="2" height="2"/>
<rect x="397" y="99" width="2" height="2"/>
<rect x="397" y="102" width="2" height="2"/>
<rect x="399" y="99" width="2" height="2"/>
<rect x="402" y="96" width="2" height="2"/>
<rect x="403" y="93" width="2" height="2"/>
<rect x="407" y="91" width="2" height="2"/>
<rect x="408" y="89" width="2" height="2"/>
<rect x="410" y="87" width="2" height="2"/>
<rect x="411" y="83" width="2" height="2"/>
<rect x="412" y="81" width="2" height="2"/>
<rect x="414" y="82" width="2" height="2"/>
<rect x="418" y="82" width="2" height="2"/>
<rect x="420" y="85" width="2" height="2"/>
<rect x="423" y="86" width="2" height="2"/>
<rect x="426" y="105" width="2" height="2"/>
<rect x="428" y="102" width="2" height="2"/>
<rect x="430" y="99" width="2" height="2"/>
<rect x="432" y="97" width="2" height="2"/>
<rect x="435" y="97" width="2" height="2"/>
<rect x="437" y="98" width="2" height="2"/>
<rect x="439" y="101" width="2" height="2"/>
<rect x="440" y="104" width="2" height="2"/>
<rect x="441" y="107" width="2" height="2"/>
<rect x="446" y="83" width="2" height="2"/>
<rect x="448" y="81" width="2" height="2"/>
<rect x="450" y="79" width="2" height="2"/>
<rect x="451" y="76" width="2" height="2"/>
<rect x="453" y="74" width="2" height="2"/>
<rect x="456" y="88" width="2" height="2"/>
<rect x="457" y="91" width="2" height="2"/>
<rect x="458" y="93" width="2" height="2"/>
<rect x="459" y="96" width="2" height="2"/>
<rect x="461" y="96" width="2" height="2"/>
<rect x="464" y="94" width="2" height="2"/>
<rect x="466" y="94" width="2" height="2"/>
<rect x="469" y="92" width="2" height="2"/>
<rect x="471" y="91" width="2" height="2"/>
<rect x="474" y="90" width="2" height="2"/>
<rect x="477" y="88" width="2" height="2"/>
<rect x="480" y="89" width="2" height="2"/>
<rect x="482" y="88" width="2" height="2"/>
<rect x="485" y="88" width="2" height="2"/>
<rect x="487" y="85" width="2" height="2"/>
<rect x="491" y="75" width="2" height="2"/>
<rect x="493" y="76" width="2" height="2"/>
<rect x="495" y="77" width="2" height="2"/>
<rect x="498" y="79" width="2" height="2"/>
<rect x="500" y="79" width="2" height="2"/>
<rect x="503" y="80" width="2" height="2"/>
<rect x="506" y="80" width="2" height="2"/>
<rect x="508" y="80" width="2" height="2"/>
<rect x="511" y="79" width="2" height="2"/>
<rect x="518" y="71" width="2" height="2"/>
<rect x="518" y="74" width="2" height="2"/>
<rect x="519" y="77" width="2" height="2"/>
<rect x="520" y="79" width="2" height="2"/>
<rect x="521" y="82" width="2" height="2"/>
<rect x="521" y="84" width="2" height="2"/>
<rect x="523" y="88" width="2" height="2"/>
<rect x="524" y="91" width="2" height="2"/>
<rect x="527" y="92" width="2" height="2"/>
<rect x="530" y="92" width="2" height="2"/>
<rect x="532" y="92" width="2" height="2"/>
<rect x="522" y="97" width="2" height="2"/>
<rect x="524" y="100" width="2" height="2"/>
<rect x="526" y="103" width="2" height="2"/>
<rect x="535" y="80" width="2" height="2"/>
<rect x="536" y="78" width="2" height="2"/>
<rect x="536" y="75" width="2" height="2"/>
<rect x="537" y="73" width="2" height="2"/>
<rect x="537" y="71" width="2" height="2"/>
<rect x="539" y="68" width="2" height="2"/>
<rect x="396" y="110" width="2" height="2"/>
<rect x="407" y="101" width="2" height="2"/>
<rect x="420" y="95" width="2" height="2"/>
<rect x="459" y="102" width="2" height="2"/>
<rect x="473" y="103" width="2" height="2"/>
<rect x="499" y="91" width="2" height="2"/>
<rect x="510" y="89" width="2" height="2"/>
<rect x="514" y="95" width="2" height="2"/>
<rect x="532" y="88" width="2" height="2"/>
<rect x="534" y="92" width="2" height="2"/>
<rect x="535" y="80" width="2" height="2"/>
<rect x="536" y="73" width="2" height="2"/>
<rect x="539" y="66" width="2" height="2"/>
<rect x="551" y="100" width="2" height="2"/>
<rect x="551" y="110" width="2" height="2"/>
<rect x="550" y="119" width="2" height="2"/>
<rect x="554" y="118" width="2" height="2"/>
<rect x="555" y="129" width="2" height="2"/>
<rect x="548" y="129" width="2" height="2"/>
<rect x="547" y="141" width="2" height="2"/>
<rect x="546" y="156" width="2" height="2"/>
<rect x="553" y="171" width="2" height="2"/>
<rect x="561" y="172" width="2" height="2"/>
<rect x="546" y="177" width="2" height="2"/>
<rect x="561" y="199" width="2" height="2"/>
<rect x="546" y="198" width="2" height="2"/>
<rect x="544" y="226" width="2" height="2"/>
<rect x="543" y="257" width="2" height="2"/>
<rect x="559" y="259" width="2" height="2"/>
<rect x="565" y="273" width="2" height="2"/>
<rect x="559" y="280" width="2" height="2"/>
<rect x="539" y="298" width="2" height="2"/>
<rect x="530" y="103" width="2" height="2"/>
<rect x="600" y="83" width="2" height="2"/>
<rect x="599" y="88" width="2" height="2"/>
<rect x="597" y="92" width="2" height="2"/>
<rect x="596" y="98" width="2" height="2"/>
<rect x="594" y="103" width="2" height="2"/>
<rect x="605" y="114" width="2" height="2"/>
<rect x="594" y="119" width="2" height="2"/>
<rect x="590" y="129" width="2" height="2"/>
<rect x="593" y="127" width="2" height="2"/>
<rect x="590" y="134" width="2" height="2"/>
<rect x="592" y="137" width="2" height="2"/>
<rect x="603" y="129" width="2" height="2"/>
<rect x="603" y="141" width="2" height="2"/>
<rect x="601" y="146" width="2" height="2"/>
<rect x="586" y="152" width="2" height="2"/>
<rect x="588" y="163" width="2" height="2"/>
<rect x="603" y="167" width="2" height="2"/>
<rect x="586" y="176" width="2" height="2"/>
<rect x="585" y="211" width="2" height="2"/>
<rect x="609" y="234" width="2" height="2"/>
<rect x="620" y="242" width="2" height="2"/>
<rect x="627" y="234" width="2" height="2"/>
<rect x="608" y="250" width="2" height="2"/>
<rect x="584" y="259" width="2" height="2"/>
<rect x="607" y="275" width="2" height="2"/>
<rect x="616" y="279" width="2" height="2"/>
<rect x="619" y="292" width="2" height="2"/>
<rect x="627" y="294" width="2" height="2"/>
<rect x="628" y="202" width="2" height="2"/>
<rect x="638" y="202" width="2" height="2"/>
<rect x="640" y="226" width="2" height="2"/>
<rect x="639" y="233" width="2" height="2"/>
<rect x="638" y="240" width="2" height="2"/>
<rect x="643" y="271" width="2" height="2"/>
<rect x="645" y="283" width="2" height="2"/>
<rect x="655" y="273" width="2" height="2"/>
<rect x="678" y="152" width="2" height="2"/>
<rect x="676" y="165" width="2" height="2"/>
<rect x="677" y="173" width="2" height="2"/>
<rect x="674" y="179" width="2" height="2"/>
<rect x="680" y="186" width="2" height="2"/>
<rect x="681" y="204" width="2" height="2"/>
<rect x="672" y="217" width="2" height="2"/>
<rect x="682" y="240" width="2" height="2"/>
<rect x="670" y="264" width="2" height="2"/>
<rect x="684" y="278" width="2" height="2"/>
<rect x="691" y="287" width="2" height="2"/>
<rect x="689" y="298" width="2" height="2"/>
<rect x="704" y="202" width="2" height="2"/>
<rect x="707" y="227" width="2" height="2"/>
<rect x="708" y="259" width="2" height="2"/>
<rect x="703" y="267" width="2" height="2"/>
<rect x="709" y="291" width="2" height="2"/>
<rect x="218" y="466" width="2" height="2"/>
<rect x="218" y="535" width="2" height="2"/>
<rect x="219" y="426" width="2" height="2"/>
<rect x="223" y="538" width="2" height="2"/>
<rect x="216" y="604" width="2" height="2"/>
<rect x="218" y="532" width="2" height="2"/>
<rect x="220" y="435" width="2" height="2"/>
<rect x="218" y="515" width="2" height="2"/>
<rect x="267" y="673" width="2" height="2"/>
<rect x="260" y="574" width="2" height="2"/>
<rect x="259" y="565" width="2" height="2"/>
<rect x="266" y="668" width="2" height="2"/>
<rect x="262" y="539" width="2" height="2"/>
<rect x="176" y="342" width="2" height="2"/>
<rect x="194" y="269" width="2" height="2"/>
<rect x="190" y="253" width="2" height="2"/>
<rect x="176" y="284" width="2" height="2"/>
<rect x="188" y="298" width="2" height="2"/>
<rect x="207" y="407" width="2" height="2"/>
<rect x="202" y="428" width="2" height="2"/>
<rect x="202" y="386" width="2" height="2"/>
<rect x="205" y="327" width="2" height="2"/>
<rect x="211" y="372" width="2" height="2"/>
<rect x="208" y="368" width="2" height="2"/>
<rect x="553" y="338" width="2" height="2"/>
<rect x="545" y="451" width="2" height="2"/>
<rect x="555" y="427" width="2" height="2"/>
<rect x="561" y="446" width="2" height="2"/>
<rect x="561" y="355" width="2" height="2"/>
<rect x="558" y="494" width="2" height="2"/>
<rect x="562" y="375" width="2" height="2"/>
<rect x="547" y="521" width="2" height="2"/>
<rect x="571" y="624" width="2" height="2"/>
<rect x="582" y="551" width="2" height="2"/>
<rect x="571" y="601" width="2" height="2"/>
<rect x="572" y="548" width="2" height="2"/>
<rect x="581" y="575" width="2" height="2"/>
<rect x="580" y="550" width="2" height="2"/>
<rect x="574" y="598" width="2" height="2"/>
<rect x="568" y="557" width="2" height="2"/>
<rect x="578" y="617" width="2" height="2"/>
<rect x="583" y="549" width="2" height="2"/>
<rect x="600" y="345" width="2" height="2"/>
<rect x="600" y="341" width="2" height="2"/>
<rect x="592" y="304" width="2" height="2"/>
<rect x="590" y="302" width="2" height="2"/>
<rect x="617" y="464" width="2" height="2"/>
<rect x="618" y="346" width="2" height="2"/>
<rect x="599" y="365" width="2" height="2"/>
<rect x="632" y="616" width="2" height="2"/>
<rect x="636" y="330" width="2" height="2"/>
<rect x="593" y="604" width="2" height="2"/>
<rect x="613" y="544" width="2" height="2"/>
<rect x="606" y="449" width="2" height="2"/>
<rect x="615" y="437" width="2" height="2"/>
<rect x="620" y="304" width="2" height="2"/>
<rect x="625" y="570" width="2" height="2"/>
<rect x="599" y="445" width="2" height="2"/>
<rect x="626" y="429" width="2" height="2"/>
<rect x="599" y="352" width="2" height="2"/>
<rect x="670" y="253" width="2" height="2"/>
<rect x="693" y="450" width="2" height="2"/>
<rect x="682" y="465" width="2" height="2"/>
<rect x="677" y="351" width="2" height="2"/>
<rect x="675" y="376" width="2" height="2"/>
<rect x="698" y="451" width="2" height="2"/>
<rect x="655" y="477" width="2" height="2"/>
<rect x="684" y="444" width="2" height="2"/>
<rect x="688" y="351" width="2" height="2"/>
<rect x="693" y="469" width="2" height="2"/>
<rect x="681" y="441" width="2" height="2"/>
<rect x="685" y="351" width="2" height="2"/>
<rect x="683" y="267" width="2" height="2"/>
<rect x="660" y="367" width="2" height="2"/>
<rect x="640" y="338" width="2" height="2"/>
<rect x="678" y="406" width="2" height="2"/>
<rect x="653" y="486" width="2" height="2"/>
<rect x="679" y="334" width="2" height="2"/>
<rect x="679" y="392" width="2" height="2"/>
<rect x="671" y="347" width="2" height="2"/>
<rect x="699" y="410" width="2" height="2"/>
<rect x="682" y="440" width="2" height="2"/>
<rect x="698" y="255" width="2" height="2"/>
<rect x="676" y="434" width="2" height="2"/>
<rect x="655" y="350" width="2" height="2"/>
<rect x="643" y="298" width="2" height="2"/>
<rect x="662" y="274" width="2" height="2"/>
<rect x="655" y="476" width="2" height="2"/>
<rect x="673" y="376" width="2" height="2"/>
<rect x="698" y="391" width="2" height="2"/>
<rect x="749" y="414" width="2" height="2"/>
<rect x="721" y="313" width="2" height="2"/>
<rect x="689" y="436" width="2" height="2"/>
<rect x="606" y="467" width="2" height="2"/>
<rect x="623" y="384" width="2" height="2"/>
<rect x="625" y="389" width="2" height="2"/>
<rect x="691" y="310" width="2" height="2"/>
<rect x="741" y="375" width="2" height="2"/>
<rect x="679" y="407" width="2" height="2"/>
<rect x="654" y="351" width="2" height="2"/>
<rect x="698" y="400" width="2" height="2"/>
<rect x="642" y="428" width="2" height="2"/>
<rect x="644" y="302" width="2" height="2"/>
<rect x="636" y="307" width="2" height="2"/>
<rect x="623" y="435" width="2" height="2"/>
<rect x="658" y="461" width="2" height="2"/>
<rect x="712" y="309" width="2" height="2"/>
<rect x="748" y="470" width="2" height="2"/>
<rect x="611" y="462" width="2" height="2"/>
<rect x="664" y="385" width="2" height="2"/>
<rect x="745" y="343" width="2" height="2"/>
<rect x="678" y="468" width="2" height="2"/>
<rect x="896" y="437" width="2" height="2"/>
<rect x="955" y="465" width="2" height="2"/>
<rect x="868" y="409" width="2" height="2"/>
<rect x="873" y="436" width="2" height="2"/>
<rect x="776" y="404" width="2" height="2"/>
<rect x="851" y="409" width="2" height="2"/>
<rect x="831" y="453" width="2" height="2"/>
<rect x="834" y="420" width="2" height="2"/>
<rect x="863" y="433" width="2" height="2"/>
<rect x="908" y="442" width="2" height="2"/>
<rect x="959" y="476" width="2" height="2"/>
<rect x="898" y="419" width="2" height="2"/>
<rect x="756" y="471" width="2" height="2"/>
<rect x="910" y="449" width="2" height="2"/>
<rect x="812" y="421" width="2" height="2"/>
<rect x="727" y="367" width="2" height="2"/>
<rect x="723" y="375" width="2" height="2"/>
<rect x="730" y="322" width="2" height="2"/>
<rect x="709" y="417" width="2" height="2"/>
<rect x="736" y="405" width="2" height="2"/>
<rect x="701" y="307" width="2" height="2"/>
<rect x="710" y="351" width="2" height="2"/>
<rect x="724" y="312" width="2" height="2"/>
<rect x="721" y="308" width="2" height="2"/>
<rect x="703" y="381" width="2" height="2"/>
<rect x="722" y="375" width="2" height="2"/>
<rect x="714" y="357" width="2" height="2"/>
<rect x="708" y="341" width="2" height="2"/>
<rect x="729" y="400" width="2" height="2"/>
<rect x="702" y="314" width="2" height="2"/>
<rect x="732" y="418" width="2" height="2"/>
<rect x="730" y="406" width="2" height="2"/>
<rect x="716" y="407" width="2" height="2"/>
<rect x="732" y="411" width="2" height="2"/>
<rect x="779" y="447" width="2" height="2"/>
<rect x="759" y="359" width="2" height="2"/>
<rect x="784" y="434" width="2" height="2"/>
<rect x="765" y="323" width="2" height="2"/>
<rect x="745" y="425" width="2" height="2"/>
<rect x="744" y="266" width="2" height="2"/>
<rect x="773" y="346" width="2" height="2"/>
<rect x="781" y="309" width="2" height="2"/>
<rect x="786" y="265" width="2" height="2"/>
<rect x="752" y="382" width="2" height="2"/>
<rect x="744" y="310" width="2" height="2"/>
<rect x="783" y="388" width="2" height="2"/>
<rect x="812" y="280" width="2" height="2"/>
<rect x="818" y="402" width="2" height="2"/>
<rect x="819" y="274" width="2" height="2"/>
<rect x="846" y="369" width="2" height="2"/>
<rect x="863" y="447" width="2" height="2"/>
<rect x="863" y="341" width="2" height="2"/>
<rect x="854" y="314" width="2" height="2"/>
<rect x="815" y="333" width="2" height="2"/>
<rect x="864" y="437" width="2" height="2"/>
<rect x="809" y="325" width="2" height="2"/>
<rect x="819" y="326" width="2" height="2"/>
<rect x="821" y="331" width="2" height="2"/>
<rect x="805" y="368" width="2" height="2"/>
<rect x="853" y="363" width="2" height="2"/>
<rect x="856" y="368" width="2" height="2"/>
<rect x="804" y="409" width="2" height="2"/>
<rect x="860" y="309" width="2" height="2"/>
<rect x="791" y="358" width="2" height="2"/>
<rect x="833" y="369" width="2" height="2"/>
<rect x="867" y="386" width="2" height="2"/>
<rect x="854" y="263" width="2" height="2"/>
<rect x="833" y="415" width="2" height="2"/>
<rect x="796" y="267" width="2" height="2"/>
<rect x="848" y="438" width="2" height="2"/>
<rect x="796" y="383" width="2" height="2"/>
<rect x="801" y="406" width="2" height="2"/>
<rect x="841" y="301" width="2" height="2"/>
<rect x="807" y="410" width="2" height="2"/>
<rect x="831" y="410" width="2" height="2"/>
<rect x="821" y="320" width="2" height="2"/>
<rect x="956" y="404" width="2" height="2"/>
<rect x="909" y="381" width="2" height="2"/>
<rect x="932" y="410" width="2" height="2"/>
<rect x="951" y="359" width="2" height="2"/>
<rect x="942" y="403" width="2" height="2"/>
<rect x="945" y="427" width="2" height="2"/>
<rect x="943" y="441" width="2" height="2"/>
<rect x="955" y="398" width="2" height="2"/>
<rect x="912" y="410" width="2" height="2"/>
<rect x="940" y="361" width="2" height="2"/>
<rect x="902" y="314" width="2" height="2"/>
<rect x="934" y="458" width="2" height="2"/>
<rect x="897" y="318" width="2" height="2"/>
<rect x="880" y="362" width="2" height="2"/>
<rect x="889" y="454" width="2" height="2"/>
<rect x="865" y="342" width="2" height="2"/>
<rect x="871" y="400" width="2" height="2"/>
<rect x="937" y="320" width="2" height="2"/>
<rect x="866" y="367" width="2" height="2"/>
<rect x="918" y="444" width="2" height="2"/>
<rect x="863" y="308" width="2" height="2"/>
<rect x="878" y="326" width="2" height="2"/>
<rect x="883" y="411" width="2" height="2"/>
<rect x="919" y="328" width="2" height="2"/>
<rect x="878" y="337" width="2" height="2"/>
<rect x="877" y="418" width="2" height="2"/>
<rect x="891" y="383" width="2" height="2"/>
<rect x="941" y="371" width="2" height="2"/>
<rect x="886" y="440" width="2" height="2"/>
<rect x="951" y="348" width="2" height="2"/>
<rect x="914" y="452" width="2" height="2"/>
<rect x="908" y="327" width="2" height="2"/>
<rect x="864" y="451" width="2" height="2"/>
<rect x="940" y="355" width="2" height="2"/>
<rect x="912" y="377" width="2" height="2"/>
<rect x="887" y="458" width="2" height="2"/>
<rect x="925" y="330" width="2" height="2"/>
<rect x="861" y="370" width="2" height="2"/>
<rect x="897" y="425" width="2" height="2"/>
<rect x="931" y="393" width="2" height="2"/>
<rect x="875" y="316" width="2" height="2"/>
<rect x="892" y="334" width="2" height="2"/>
<rect x="946" y="377" width="2" height="2"/>
<rect x="923" y="458" width="2" height="2"/>
<rect x="886" y="380" width="2" height="2"/>
<rect x="875" y="420" width="2" height="2"/>
<rect x="860" y="429" width="2" height="2"/>
<rect x="944" y="429" width="2" height="2"/>
<rect x="868" y="335" width="2" height="2"/>
<rect x="931" y="306" width="2" height="2"/>
<rect x="908" y="369" width="2" height="2"/>
<rect x="955" y="389" width="2" height="2"/>
<rect x="945" y="341" width="2" height="2"/>
<rect x="938" y="360" width="2" height="2"/>
<rect x="951" y="305" width="2" height="2"/>
<rect x="961" y="335" width="2" height="2"/>
<rect x="882" y="389" width="2" height="2"/>
<rect x="774" y="441" width="2" height="2"/>
<rect x="817" y="352" width="2" height="2"/>
<rect x="751" y="351" width="2" height="2"/>
<rect x="860" y="421" width="2" height="2"/>
<rect x="830" y="416" width="2" height="2"/>
<rect x="759" y="367" width="2" height="2"/>
<rect x="859" y="464" width="2" height="2"/>
<rect x="962" y="411" width="2" height="2"/>
<rect x="733" y="364" width="2" height="2"/>
<rect x="928" y="340" width="2" height="2"/>
<rect x="887" y="377" width="2" height="2"/>
<rect x="732" y="468" width="2" height="2"/>
<rect x="953" y="335" width="2" height="2"/>
<rect x="902" y="349" width="2" height="2"/>
<rect x="835" y="391" width="2" height="2"/>
<rect x="813" y="357" width="2" height="2"/>
<rect x="839" y="413" width="2" height="2"/>
<rect x="801" y="333" width="2" height="2"/>
<rect x="934" y="355" width="2" height="2"/>
<rect x="994" y="395" width="2" height="2"/>
<rect x="932" y="356" width="2" height="2"/>
<rect x="961" y="315" width="2" height="2"/>
<rect x="769" y="316" width="2" height="2"/>
<rect x="919" y="420" width="2" height="2"/>
<rect x="780" y="368" width="2" height="2"/>
<rect x="964" y="400" width="2" height="2"/>
<rect x="755" y="338" width="2" height="2"/>
<rect x="773" y="321" width="2" height="2"/>
<rect x="843" y="312" width="2" height="2"/>
<rect x="987" y="372" width="2" height="2"/>
<rect x="873" y="410" width="2" height="2"/>
<rect x="944" y="439" width="2" height="2"/>
<rect x="838" y="356" width="2" height="2"/>
<rect x="845" y="302" width="2" height="2"/>
<rect x="842" y="418" width="2" height="2"/>
<rect x="1004" y="434" width="2" height="2"/>
<rect x="914" y="403" width="2" height="2"/>
<rect x="735" y="356" width="2" height="2"/>
<rect x="825" y="410" width="2" height="2"/>
<rect x="759" y="364" width="2" height="2"/>
<rect x="872" y="434" width="2" height="2"/>
<rect x="961" y="403" width="2" height="2"/>
<rect x="774" y="430" width="2" height="2"/>
<rect x="982" y="393" width="2" height="2"/>
<rect x="828" y="385" width="2" height="2"/>
<rect x="769" y="421" width="2" height="2"/>
<rect x="1006" y="387" width="2" height="2"/>
<rect x="930" y="442" width="2" height="2"/>
<rect x="785" y="460" width="2" height="2"/>
<rect x="905" y="333" width="2" height="2"/>
<rect x="753" y="341" width="2" height="2"/>
<rect x="891" y="418" width="2" height="2"/>
<rect x="822" y="457" width="2" height="2"/>
<rect x="831" y="378" width="2" height="2"/>
<rect x="764" y="465" width="2" height="2"/>
<rect x="767" y="453" width="2" height="2"/>
<rect x="882" y="395" width="2" height="2"/>
<rect x="886" y="344" width="2" height="2"/>
<rect x="984" y="468" width="2" height="2"/>
<rect x="958" y="402" width="2" height="2"/>
<rect x="764" y="440" width="2" height="2"/>
<rect x="810" y="452" width="2" height="2"/>
<rect x="797" y="397" width="2" height="2"/>
<rect x="962" y="331" width="2" height="2"/>
<rect x="883" y="312" width="2" height="2"/>
<rect x="738" y="330" width="2" height="2"/>
<rect x="1006" y="459" width="2" height="2"/>
<rect x="914" y="352" width="2" height="2"/>
<rect x="881" y="536" width="2" height="2"/>
<rect x="777" y="523" width="2" height="2"/>
<rect x="929" y="471" width="2" height="2"/>
<rect x="711" y="512" width="2" height="2"/>
<rect x="691" y="504" width="2" height="2"/>
<rect x="845" y="485" width="2" height="2"/>
<rect x="827" y="493" width="2" height="2"/>
<rect x="844" y="499" width="2" height="2"/>
<rect x="871" y="473" width="2" height="2"/>
<rect x="881" y="483" width="2" height="2"/>
<rect x="985" y="524" width="2" height="2"/>
<rect x="809" y="507" width="2" height="2"/>
<rect x="991" y="414" width="2" height="2"/>
<rect x="997" y="425" width="2" height="2"/>
<rect x="984" y="469" width="2" height="2"/>
<rect x="1001" y="443" width="2" height="2"/>
<rect x="980" y="368" width="2" height="2"/>
<rect x="988" y="452" width="2" height="2"/>
<rect x="986" y="384" width="2" height="2"/>
<rect x="981" y="452" width="2" height="2"/>
<rect x="976" y="299" width="2" height="2"/>
<rect x="996" y="452" width="2" height="2"/>
<rect x="996" y="397" width="2" height="2"/>
<rect x="997" y="344" width="2" height="2"/>
<rect x="989" y="302" width="2" height="2"/>
<rect x="966" y="370" width="2" height="2"/>
<rect x="985" y="361" width="2" height="2"/>
<rect x="962" y="415" width="2" height="2"/>
<rect x="986" y="333" width="2" height="2"/>
<rect x="975" y="361" width="2" height="2"/>
<rect x="971" y="302" width="2" height="2"/>
<rect x="1005" y="463" width="2" height="2"/>
<rect x="993" y="445" width="2" height="2"/>
<rect x="981" y="434" width="2" height="2"/>
<rect x="971" y="424" width="2" height="2"/>
<rect x="988" y="452" width="2" height="2"/>
<rect x="964" y="432" width="2" height="2"/>
<rect x="966" y="386" width="2" height="2"/>
<rect x="1007" y="290" width="2" height="2"/>
<rect x="972" y="343" width="2" height="2"/>
<rect x="976" y="301" width="2" height="2"/>
<rect x="1004" y="436" width="2" height="2"/>
<rect x="1033" y="321" width="2" height="2"/>
<rect x="1045" y="302" width="2" height="2"/>
<rect x="1011" y="353" width="2" height="2"/>
<rect x="1028" y="329" width="2" height="2"/>
<rect x="1066" y="358" width="2" height="2"/>
<rect x="1038" y="312" width="2" height="2"/>
<rect x="1090" y="355" width="2" height="2"/>
<rect x="1111" y="311" width="2" height="2"/>
<rect x="1109" y="321" width="2" height="2"/>
<rect x="1096" y="310" width="2" height="2"/>
<rect x="1110" y="359" width="2" height="2"/>
<rect x="1087" y="337" width="2" height="2"/>
<rect x="996" y="106" width="2" height="2"/>
<rect x="994" y="111" width="2" height="2"/>
<rect x="1010" y="111" width="2" height="2"/>
<rect x="1013" y="114" width="2" height="2"/>
<rect x="1009" y="122" width="2" height="2"/>
<rect x="1019" y="122" width="2" height="2"/>
<rect x="1011" y="127" width="2" height="2"/>
<rect x="1018" y="129" width="2" height="2"/>
<rect x="1017" y="137" width="2" height="2"/>
<rect x="1004" y="135" width="2" height="2"/>
<rect x="1006" y="138" width="2" height="2"/>
<rect x="992" y="134" width="2" height="2"/>
<rect x="998" y="140" width="2" height="2"/>
<rect x="1002" y="140" width="2" height="2"/>
<rect x="999" y="150" width="2" height="2"/>
<rect x="1003" y="156" width="2" height="2"/>
<rect x="1007" y="150" width="2" height="2"/>
<rect x="1014" y="150" width="2" height="2"/>
<rect x="1018" y="149" width="2" height="2"/>
<rect x="1021" y="157" width="2" height="2"/>
<rect x="1023" y="160" width="2" height="2"/>
<rect x="988" y="150" width="2" height="2"/>
<rect x="991" y="154" width="2" height="2"/>
<rect x="980" y="149" width="2" height="2"/>
<rect x="977" y="156" width="2" height="2"/>
<rect x="987" y="172" width="2" height="2"/>
<rect x="999" y="167" width="2" height="2"/>
<rect x="1003" y="175" width="2" height="2"/>
<rect x="1015" y="167" width="2" height="2"/>
<rect x="1017" y="175" width="2" height="2"/>
<rect x="976" y="177" width="2" height="2"/>
<rect x="976" y="186" width="2" height="2"/>
<rect x="990" y="181" width="2" height="2"/>
<rect x="994" y="188" width="2" height="2"/>
<rect x="1000" y="194" width="2" height="2"/>
<rect x="988" y="196" width="2" height="2"/>
<rect x="975" y="213" width="2" height="2"/>
<rect x="986" y="211" width="2" height="2"/>
<rect x="984" y="221" width="2" height="2"/>
<rect x="988" y="225" width="2" height="2"/>
<rect x="1022" y="202" width="2" height="2"/>
<rect x="1027" y="203" width="2" height="2"/>
<rect x="1026" y="213" width="2" height="2"/>
<rect x="1025" y="226" width="2" height="2"/>
<rect x="1037" y="214" width="2" height="2"/>
<rect x="1040" y="140" width="2" height="2"/>
<rect x="1041" y="149" width="2" height="2"/>
<rect x="1037" y="175" width="2" height="2"/>
<rect x="1040" y="190" width="2" height="2"/>
<rect x="1032" y="131" width="2" height="2"/>
<rect x="1029" y="150" width="2" height="2"/>
<rect x="1030" y="169" width="2" height="2"/>
<rect x="1059" y="131" width="2" height="2"/>
<rect x="1057" y="141" width="2" height="2"/>
<rect x="1056" y="167" width="2" height="2"/>
<rect x="1055" y="173" width="2" height="2"/>
<rect x="1063" y="203" width="2" height="2"/>
<rect x="1072" y="203" width="2" height="2"/>
<rect x="1071" y="213" width="2" height="2"/>
<rect x="1069" y="227" width="2" height="2"/>
<rect x="1064" y="229" width="2" height="2"/>
<rect x="1042" y="233" width="2" height="2"/>
<rect x="1052" y="227" width="2" height="2"/>
<rect x="1048" y="200" width="2" height="2"/>
<rect x="1049" y="186" width="2" height="2"/>
<rect x="950" y="234" width="2" height="2"/>
<rect x="975" y="241" width="2" height="2"/>
<rect x="1023" y="260" width="2" height="2"/>
<rect x="1083" y="96" width="2" height="2"/>
<rect x="1084" y="103" width="2" height="2"/>
<rect x="1098" y="88" width="2" height="2"/>
<rect x="1096" y="102" width="2" height="2"/>
<rect x="1099" y="108" width="2" height="2"/>
<rect x="1080" y="112" width="2" height="2"/>
<rect x="1090" y="114" width="2" height="2"/>
<rect x="1095" y="117" width="2" height="2"/>
<rect x="1088" y="125" width="2" height="2"/>
<rect x="1094" y="126" width="2" height="2"/>
<rect x="1101" y="126" width="2" height="2"/>
<rect x="1080" y="130" width="2" height="2"/>
<rect x="1087" y="133" width="2" height="2"/>
<rect x="1092" y="134" width="2" height="2"/>
<rect x="1076" y="140" width="2" height="2"/>
<rect x="1087" y="141" width="2" height="2"/>
<rect x="1109" y="138" width="2" height="2"/>
<rect x="1076" y="149" width="2" height="2"/>
<rect x="1087" y="150" width="2" height="2"/>
<rect x="1109" y="148" width="2" height="2"/>
<rect x="1110" y="150" width="2" height="2"/>
<rect x="1091" y="161" width="2" height="2"/>
<rect x="1086" y="167" width="2" height="2"/>
<rect x="1105" y="156" width="2" height="2"/>
<rect x="1111" y="158" width="2" height="2"/>
<rect x="1078" y="164" width="2" height="2"/>
<rect x="1106" y="172" width="2" height="2"/>
<rect x="1125" y="167" width="2" height="2"/>
<rect x="1133" y="183" width="2" height="2"/>
<rect x="1136" y="172" width="2" height="2"/>
<rect x="1138" y="168" width="2" height="2"/>
<rect x="1124" y="190" width="2" height="2"/>
<rect x="1128" y="198" width="2" height="2"/>
<rect x="1079" y="186" width="2" height="2"/>
<rect x="1073" y="195" width="2" height="2"/>
<rect x="1102" y="213" width="2" height="2"/>
<rect x="1087" y="223" width="2" height="2"/>
<rect x="1102" y="227" width="2" height="2"/>
<rect x="1105" y="234" width="2" height="2"/>
<rect x="1122" y="211" width="2" height="2"/>
<rect x="1133" y="217" width="2" height="2"/>
<rect x="1113" y="125" width="2" height="2"/>
<rect x="1136" y="134" width="2" height="2"/>
<rect x="1126" y="240" width="2" height="2"/>
<rect x="1134" y="248" width="2" height="2"/>
<rect x="1032" y="423" width="2" height="2"/>
<rect x="1016" y="314" width="2" height="2"/>
<rect x="1097" y="343" width="2" height="2"/>
<rect x="1118" y="421" width="2" height="2"/>
<rect x="1095" y="318" width="2" height="2"/>
<rect x="1093" y="431" width="2" height="2"/>
<rect x="1063" y="311" width="2" height="2"/>
<rect x="1036" y="343" width="2" height="2"/>
<rect x="1095" y="327" width="2" height="2"/>
<rect x="1031" y="332" width="2" height="2"/>
<rect x="1089" y="410" width="2" height="2"/>
<rect x="1054" y="392" width="2" height="2"/>
<rect x="1169" y="600" width="2" height="2"/>
<rect x="1153" y="566" width="2" height="2"/>
<rect x="1170" y="610" width="2" height="2"/>
<rect x="1154" y="606" width="2" height="2"/>
<rect x="1150" y="647" width="2" height="2"/>
<rect x="1158" y="593" width="2" height="2"/>
<rect x="1160" y="535" width="2" height="2"/>
<rect x="1162" y="564" width="2" height="2"/>
<rect x="1154" y="626" width="2" height="2"/>
<rect x="1150" y="564" width="2" height="2"/>
<rect x="896" y="99" width="2" height="2"/>
<rect x="772" y="159" width="2" height="2"/>
<rect x="748" y="229" width="2" height="2"/>
<rect x="956" y="56" width="2" height="2"/>
<rect x="820" y="200" width="2" height="2"/>
<rect x="800" y="235" width="2" height="2"/>
<rect x="1192" y="87" width="2" height="2"/>
<rect x="1191" y="90" width="2" height="2"/>
<rect x="1190" y="93" width="2" height="2"/>
<rect x="1193" y="95" width="2" height="2"/>
<rect x="1195" y="97" width="2" height="2"/>
<rect x="1198" y="95" width="2" height="2"/>
<rect x="1200" y="92" width="2" height="2"/>
<rect x="1204" y="98" width="2" height="2"/>
<rect x="1204" y="100" width="2" height="2"/>
<rect x="1204" y="103" width="2" height="2"/>
<rect x="1205" y="105" width="2" height="2"/>
<rect x="1205" y="106" width="2" height="2"/>
<rect x="1205" y="109" width="2" height="2"/>
<rect x="1208" y="109" width="2" height="2"/>
<rect x="1210" y="111" width="2" height="2"/>
<rect x="1212" y="113" width="2" height="2"/>
<rect x="1214" y="113" width="2" height="2"/>
<rect x="1212" y="106" width="2" height="2"/>
<rect x="1231" y="131" width="2" height="2"/>
<rect x="1232" y="128" width="2" height="2"/>
<rect x="1234" y="125" width="2" height="2"/>
<rect x="1236" y="122" width="2" height="2"/>
<rect x="1238" y="119" width="2" height="2"/>
<rect x="1239" y="117" width="2" height="2"/>
<rect x="1240" y="114" width="2" height="2"/>
<rect x="1242" y="112" width="2" height="2"/>
<rect x="1243" y="110" width="2" height="2"/>
<rect x="1245" y="108" width="2" height="2"/>
<rect x="1247" y="106" width="2" height="2"/>
<rect x="1248" y="104" width="2" height="2"/>
<rect x="1250" y="102" width="2" height="2"/>
<rect x="1250" y="100" width="2" height="2"/>
<rect x="1251" y="98" width="2" height="2"/>
<rect x="1253" y="95" width="2" height="2"/>
<rect x="1253" y="94" width="2" height="2"/>
<rect x="1255" y="91" width="2" height="2"/>
<rect x="1255" y="90" width="2" height="2"/>
<rect x="1256" y="87" width="2" height="2"/>
<rect x="1257" y="85" width="2" height="2"/>
<rect x="1258" y="83" width="2" height="2"/>
<rect x="1258" y="81" width="2" height="2"/>
<rect x="1259" y="80" width="2" height="2"/>
<rect x="1260" y="78" width="2" height="2"/>
<rect x="1261" y="75" width="2" height="2"/>
<rect x="1263" y="83" width="2" height="2"/>
<rect x="1265" y="85" width="2" height="2"/>
<rect x="1267" y="86" width="2" height="2"/>
<rect x="1270" y="84" width="2" height="2"/>
<rect x="1272" y="82" width="2" height="2"/>
<rect x="1275" y="79" width="2" height="2"/>
<rect x="1276" y="78" width="2" height="2"/>
<rect x="1279" y="75" width="2" height="2"/>
<rect x="1281" y="78" width="2" height="2"/>
<rect x="1282" y="81" width="2" height="2"/>
<rect x="1280" y="83" width="2" height="2"/>
<rect x="1277" y="84" width="2" height="2"/>
<rect x="1287" y="110" width="2" height="2"/>
<rect x="1288" y="108" width="2" height="2"/>
<rect x="1288" y="106" width="2" height="2"/>
<rect x="1288" y="103" width="2" height="2"/>
<rect x="1289" y="101" width="2" height="2"/>
<rect x="1292" y="99" width="2" height="2"/>
<rect x="1292" y="96" width="2" height="2"/>
<rect x="1292" y="94" width="2" height="2"/>
<rect x="1292" y="92" width="2" height="2"/>
<rect x="1293" y="90" width="2" height="2"/>
<rect x="1294" y="88" width="2" height="2"/>
<rect x="1295" y="85" width="2" height="2"/>
<rect x="1295" y="83" width="2" height="2"/>
<rect x="1297" y="81" width="2" height="2"/>
<rect x="1297" y="79" width="2" height="2"/>
<rect x="1298" y="77" width="2" height="2"/>
<rect x="1301" y="81" width="2" height="2"/>
<rect x="1302" y="79" width="2" height="2"/>
<rect x="1302" y="77" width="2" height="2"/>
<rect x="1303" y="74" width="2" height="2"/>
<rect x="1304" y="72" width="2" height="2"/>
<rect x="1304" y="70" width="2" height="2"/>
<rect x="1305" y="68" width="2" height="2"/>
<rect x="1305" y="66" width="2" height="2"/>
<rect x="1306" y="64" width="2" height="2"/>
<rect x="1189" y="103" width="2" height="2"/>
<rect x="1188" y="111" width="2" height="2"/>
<rect x="1188" y="123" width="2" height="2"/>
<rect x="1187" y="132" width="2" height="2"/>
<rect x="1186" y="145" width="2" height="2"/>
<rect x="1180" y="136" width="2" height="2"/>
<rect x="1179" y="158" width="2" height="2"/>
<rect x="1185" y="169" width="2" height="2"/>
<rect x="1175" y="178" width="2" height="2"/>
<rect x="1178" y="183" width="2" height="2"/>
<rect x="1181" y="188" width="2" height="2"/>
<rect x="1184" y="186" width="2" height="2"/>
<rect x="1223" y="147" width="2" height="2"/>
<rect x="1225" y="141" width="2" height="2"/>
<rect x="1230" y="143" width="2" height="2"/>
<rect x="1229" y="168" width="2" height="2"/>
<rect x="1218" y="174" width="2" height="2"/>
<rect x="1221" y="179" width="2" height="2"/>
<rect x="1136" y="133" width="2" height="2"/>
<rect x="1143" y="140" width="2" height="2"/>
<rect x="1135" y="156" width="2" height="2"/>
<rect x="1142" y="160" width="2" height="2"/>
<rect x="1138" y="169" width="2" height="2"/>
<rect x="1134" y="183" width="2" height="2"/>
<rect x="1141" y="181" width="2" height="2"/>
<rect x="1123" y="167" width="2" height="2"/>
<rect x="1123" y="190" width="2" height="2"/>
<rect x="1127" y="197" width="2" height="2"/>
<rect x="1122" y="211" width="2" height="2"/>
<rect x="1133" y="217" width="2" height="2"/>
<rect x="1183" y="215" width="2" height="2"/>
<rect x="1219" y="215" width="2" height="2"/>
<rect x="1284" y="132" width="2" height="2"/>
<rect x="1287" y="140" width="2" height="2"/>
<rect x="1283" y="159" width="2" height="2"/>
<rect x="1284" y="181" width="2" height="2"/>
<rect x="1311" y="147" width="2" height="2"/>
<rect x="1315" y="151" width="2" height="2"/>
<rect x="1314" y="163" width="2" height="2"/>
<rect x="1312" y="172" width="2" height="2"/>
<rect x="1313" y="201" width="2" height="2"/>
<rect x="1313" y="205" width="2" height="2"/>
<rect x="1317" y="128" width="2" height="2"/>
<rect x="1274" y="71" width="2" height="2"/>
<rect x="1279" y="70" width="2" height="2"/>
</g>
<polyline points="151.5,710 151.5,710 152.5,710 153.5,710 154.5,710 155.5,710 155.5,710 156.5,768 157.5,727 158.5,727 159.5,727 159.5,727 160.5,710 161.5,710 162.5,768 163.5,768 164.5,768 164.5,768 165.5,710 166.5,768 167.5,727 168.5,768 168.5,710 169.5,710 170.5,710 171.5,710 172.5,710 172.5,710 173.5,710 174.5,710 175.5,768 176.5,756 177.5,710 177.5,768 178.5,710 179.5,710 180.5,768 181.5,710 181.5,710 182.5,756 183.5,768 184.5,768 185.5,710 185.5,710 186.5,710 187.5,756 188.5,727 189.5,768 190.5,710 190.5,768 191.5,768 192.5,727 193.5,756 194.5,727 194.5,727 195.5,727 196.5,727 197.5,727 198.5,727 198.5,710 199.5,710 200.5,710 201.5,727 202.5,768 203.5,710 203.5,743 204.5,743 205.5,768 206.5,710 207.5,710 207.5,710 208.5,710 209.5,710 210.5,768 211.5,768 211.5,710 212.5,710 213.5,743 214.5,743 215.5,743 216.5,756 216.5,710 217.5,743 218.5,768 219.5,710 220.5,756 220.5,710 221.5,727 222.5,756 223.5,768 224.5,710 224.5,768 225.5,710 226.5,768 227.5,768 228.5,727 229.5,710 229.5,743 230.5,710 231.5,743 232.5,683 233.5,683 233.5,727 234.5,768 235.5,683 236.5,710 237.5,710 237.5,710 238.5,710 239.5,743 240.5,710 241.5,710 242.5,710 242.5,710 243.5,727 244.5,727 245.5,727 246.5,727 246.5,768 247.5,768 248.5,768 249.5,768 250.5,768 250.5,756 251.5,727 252.5,727 253.5,768 254.5,768 255.5,768 255.5,756 256.5,756 257.5,768 258.5,756 259.5,710 259.5,743 260.5,727 261.5,727 262.5,727 263.5,727 263.5,710 264.5,756 265.5,768 266.5,768 267.5,727 268.5,727 268.5,710 269.5,710 270.5,768 271.5,710 272.5,710 272.5,710 273.5,768 274.5,743 275.5,768 276.5,743 276.5,743 277.5,727 278.5,768 279.5,710 280.5,710 281.5,768 281.5,710 282.5,710 283.5,710 284.5,710 285.5,768 285.5,768 286.5,768 287.5,768 288.5,768 289.5,768 289.5,768 290.5,768 291.5,768 292.5,768 293.5,768 294.5,768 294.5,768 295.5,768 296.5,768 297.5,768 298.5,768 298.5,768 299.5,768 300.5,768 301.5,768 302.5,768 302.5,768 303.5,768 304.5,768 305.5,768 306.5,768 307.5,768 307.5,768 308.5,768 309.5,768 310.5,768 311.5,768 311.5,768 312.5,768 313.5,768 314.5,768 315.5,768 315.5,768 316.5,768 317.5,768 318.5,768 319.5,768 320.5,768 320.5,768 321.5,768 322.5,768 323.5,768 324.5,768 324.5,768 325.5,768 326.5,768 327.5,768 328.5,768 328.5,768 329.5,768 330.5,768 331.5,768 332.5,768 333.5,768 333.5,768 334.5,768 335.5,768 336.5,768 337.5,768 337.5,768 338.5,768 339.5,768 340.5,768 341.5,768 341.5,768 342.5,768 343.5,768 344.5,768 345.5,710 346.5,710 346.5,710 347.5,768 348.5,768 349.5,768 350.5,768 350.5,768 351.5,768 352.5,768 353.5,768 354.5,768 354.5,768 355.5,768 356.5,768 357.5,768 358.5,768 359.5,768 359.5,768 360.5,768 361.5,756 362.5,756 363.5,727 363.5,727 364.5,743 365.5,710 366.5,727 367.5,768 367.5,756 368.5,710 369.5,710 370.5,710 371.5,710 372.5,710 372.5,710 373.5,710 374.5,710 375.5,710 376.5,756 376.5,710 377.5,710 378.5,710 379.5,710 380.5,743 380.5,768 381.5,768 382.5,743 383.5,743 384.5,710 385.5,743 385.5,743 386.5,743 387.5,727 388.5,768 389.5,768 389.5,768 390.5,743 391.5,768 392.5,768 393.5,768 393.5,743 394.5,768 395.5,768 396.5,710 397.5,710 398.5,710 398.5,710 399.5,727 400.5,743 401.5,710 402.5,756 402.5,710 403.5,710 404.5,710 405.5,710 406.5,710 406.5,710 407.5,710 408.5,710 409.5,710 410.5,710 411.5,710 411.5,727 412.5,727 413.5,727 414.5,768 415.5,727 415.5,727 416.5,727 417.5,756 418.5,727 419.5,710 419.5,727 420.5,710 421.5,710 422.5,710 423.5,710 424.5,710 424.5,710 425.5,710 426.5,710 427.5,710 428.5,756 428.5,756 429.5,727 430.5,727 431.5,727 432.5,727 432.5,727 433.5,710 434.5,768 435.5,743 436.5,768 437.5,710 437.5,768 438.5,768 439.5,727 440.5,710 441.5,710 441.5,710 442.5,727 443.5,727 444.5,710 445.5,710 445.5,768 446.5,743 447.5,743 448.5,768 449.5,727 450.5,743 450.5,756 451.5,727 452.5,727 453.5,756 454.5,756 454.5,710 455.5,710 456.5,768 457.5,727 458.5,727 458.5,727 459.5,727 460.5,710 461.5,710 462.5,743 463.5,710 463.5,710 464.5,710 465.5,710 466.5,727 467.5,727 467.5,727 468.5,727 469.5,727 470.5,727 471.5,727 471.5,683 472.5,683 473.5,683 474.5,683 475.5,727 476.5,743 476.5,710 477.5,756 478.5,756 479.5,756 480.5,727 480.5,710 481.5,710 482.5,756 483.5,768 484.5,710 484.5,710 485.5,710 486.5,710 487.5,710 488.5,683 489.5,683 489.5,710 490.5,710 491.5,710 492.5,710 493.5,710 493.5,710 494.5,710 495.5,710 496.5,727 497.5,743 497.5,768 498.5,743 499.5,683 500.5,768 501.5,710 502.5,710 502.5,710 503.5,710 504.5,710 505.5,743 506.5,710 506.5,710 507.5,710 508.5,710 509.5,710 510.5,710 510.5,710 511.5,710 512.5,710 513.5,710 514.5,683 515.5,683 515.5,768 516.5,710 517.5,756 518.5,710 519.5,768 519.5,710 520.5,768 521.5,768 522.5,768 523.5,710 523.5,710 524.5,710 525.5,710 526.5,710 527.5,710 528.5,743 528.5,743 529.5,743 530.5,743 531.5,768 532.5,768 532.5,768 533.5,768 534.5,768 535.5,768 536.5,768 536.5,743 537.5,743 538.5,768 539.5,768 540.5,768 541.5,743 541.5,768 542.5,710 543.5,727 544.5,727 545.5,727 545.5,743 546.5,743 547.5,768 548.5,768 549.5,768 549.5,710 550.5,756 551.5,768 552.5,710 553.5,710 554.5,756 554.5,756 555.5,743 556.5,743 557.5,743 558.5,710 558.5,743 559.5,743 560.5,710 561.5,743 562.5,743 562.5,710 563.5,727 564.5,768 565.5,768 566.5,768 567.5,768 567.5,768 568.5,768 569.5,768 570.5,768 571.5,768 571.5,768 572.5,710 573.5,710 574.5,768 575.5,768 575.5,768 576.5,743 577.5,743 578.5,710 579.5,768 580.5,768 580.5,710 581.5,768 582.5,710 583.5,768 584.5,743 584.5,710 585.5,710 586.5,768 587.5,710 588.5,768 588.5,768 589.5,756 590.5,743 591.5,710 592.5,710 593.5,768 593.5,710 594.5,710 595.5,710 596.5,710 597.5,743 597.5,727 598.5,768 599.5,768 600.5,727 601.5,727 601.5,727 602.5,727 603.5,727 604.5,651 605.5,710 606.5,710 606.5,710 607.5,710 608.5,768 609.5,710 610.5,756 610.5,768 611.5,710 612.5,710 613.5,710 614.5,727 614.5,727 615.5,768 616.5,768 617.5,768 618.5,768 619.5,710 619.5,768 620.5,727 621.5,727 622.5,743 623.5,683 623.5,683 624.5,768 625.5,768 626.5,727 627.5,727 627.5,727 628.5,743 629.5,768 630.5,768 631.5,683 632.5,756 632.5,768 633.5,768 634.5,768 635.5,768 636.5,727 636.5,710 637.5,710 638.5,683 639.5,768 640.5,768 640.5,768 641.5,743 642.5,743 643.5,768 644.5,710 645.5,710 645.5,710 646.5,710 647.5,710 648.5,727 649.5,768 649.5,743 650.5,710 651.5,683 652.5,768 653.5,743 653.5,710 654.5,727 655.5,710 656.5,768 657.5,768 658.5,756 658.5,768 659.5,727 660.5,651 661.5,651 662.5,710 662.5,710 663.5,651 664.5,743 665.5,710 666.5,683 666.5,710 667.5,743 668.5,743 669.5,710 670.5,743 671.5,743 671.5,683 672.5,710 673.5,710 674.5,710 675.5,710 675.5,710 676.5,710 677.5,651 678.5,710 679.5,710 679.5,743 680.5,743 681.5,683 682.5,710 683.5,625 684.5,743 684.5,651 685.5,683 686.5,710 687.5,683 688.5,743 688.5,710 689.5,651 690.5,710 691.5,683 692.5,710 692.5,683 693.5,743 694.5,683 695.5,683 696.5,743 697.5,743 697.5,683 698.5,743 699.5,743 700.5,710 701.5,743 701.5,743 702.5,710 703.5,683 704.5,651 705.5,710 705.5,651 706.5,710 707.5,625 708.5,683 709.5,683 710.5,683 710.5,710 711.5,683 712.5,651 713.5,710 714.5,710 714.5,683 715.5,743 716.5,768 717.5,683 718.5,743 718.5,710 719.5,710 720.5,566 721.5,710 722.5,651 723.5,651 723.5,683 724.5,683 725.5,651 726.5,651 727.5,683 727.5,683 728.5,625 729.5,625 730.5,625 731.5,625 731.5,743 732.5,743 733.5,710 734.5,683 735.5,651 736.5,743 736.5,625 737.5,625 738.5,625 739.5,651 740.5,651 740.5,566 741.5,743 742.5,710 743.5,710 744.5,768 744.5,683 745.5,683 746.5,566 747.5,625 748.5,683 749.5,683 749.5,683 750.5,625 751.5,593 752.5,625 753.5,593 753.5,683 754.5,651 755.5,625 756.5,710 757.5,710 757.5,625 758.5,651 759.5,683 760.5,683 761.5,683 762.5,683 762.5,683 763.5,683 764.5,683 765.5,683 766.5,566 766.5,683 767.5,743 768.5,743 769.5,743 770.5,625 770.5,625 771.5,593 772.5,651 773.5,683 774.5,625 775.5,683 775.5,743 776.5,710 777.5,651 778.5,651 779.5,683 779.5,593 780.5,683 781.5,710 782.5,743 783.5,593 783.5,743 784.5,651 785.5,710 786.5,683 787.5,683 788.5,710 788.5,710 789.5,593 790.5,710 791.5,593 792.5,593 792.5,710 793.5,683 794.5,683 795.5,683 796.5,683 796.5,743 797.5,683 798.5,625 799.5,683 800.5,593 801.5,683 801.5,651 802.5,683 803.5,683 804.5,683 805.5,651 805.5,710 806.5,625 807.5,625 808.5,625 809.5,593 809.5,593 810.5,593 811.5,683 812.5,743 813.5,710 814.5,625 814.5,593 815.5,651 816.5,710 817.5,683 818.5,710 818.5,683 819.5,593 820.5,683 821.5,566 822.5,625 822.5,683 823.5,710 824.5,593 825.5,710 826.5,683 827.5,683 827.5,743 828.5,651 829.5,651 830.5,651 831.5,625 831.5,683 832.5,710 833.5,743 834.5,683 835.5,743 835.5,566 836.5,710 837.5,743 838.5,710 839.5,683 840.5,743 840.5,743 841.5,625 842.5,625 843.5,710 844.5,505 844.5,710 845.5,743 846.5,625 847.5,743 848.5,593 848.5,625 849.5,593 850.5,683 851.5,683 852.5,683 853.5,683 853.5,743 854.5,683 855.5,651 856.5,625 857.5,683 857.5,683 858.5,593 859.5,683 860.5,743 861.5,710 861.5,710 862.5,710 863.5,651 864.5,683 865.5,710 866.5,710 866.5,625 867.5,651 868.5,651 869.5,743 870.5,651 870.5,710 871.5,683 872.5,651 873.5,683 874.5,651 874.5,683 875.5,651 876.5,651 877.5,683 878.5,710 879.5,710 879.5,743 880.5,683 881.5,683 882.5,710 883.5,593 883.5,593 884.5,625 885.5,743 886.5,683 887.5,683 887.5,651 888.5,710 889.5,625 890.5,651 891.5,566 892.5,743 892.5,651 893.5,625 894.5,651 895.5,651 896.5,625 896.5,625 897.5,651 898.5,743 899.5,710 900.5,651 900.5,625 901.5,593 902.5,651 903.5,683 904.5,566 905.5,566 905.5,651 906.5,625 907.5,710 908.5,651 909.5,566 909.5,625 910.5,625 911.5,593 912.5,625 913.5,625 913.5,651 914.5,593 915.5,566 916.5,651 917.5,651 918.5,651 918.5,683 919.5,743 920.5,593 921.5,683 922.5,710 922.5,651 923.5,651 924.5,683 925.5,768 926.5,768 926.5,683 927.5,593 928.5,710 929.5,651 930.5,710 931.5,683 931.5,625 932.5,625 933.5,625 934.5,593 935.5,566 935.5,566 936.5,683 937.5,683 938.5,566 939.5,625 939.5,743 940.5,651 941.5,566 942.5,538 943.5,393 944.5,420 944.5,651 945.5,710 946.5,651 947.5,683 948.5,651 948.5,625 949.5,683 950.5,683 951.5,538 952.5,651 952.5,625 953.5,683 954.5,743 955.5,683 956.5,683 957.5,683 957.5,683 958.5,710 959.5,651 960.5,651 961.5,651 961.5,651 962.5,625 963.5,625 964.5,566 965.5,743 965.5,593 966.5,451 967.5,651 968.5,683 969.5,683 970.5,710 970.5,593 971.5,651 972.5,710 973.5,476 974.5,566 974.5,505 975.5,593 976.5,593 977.5,538 978.5,566 978.5,566 979.5,743 980.5,625 981.5,625 982.5,625 983.5,683 983.5,683 984.5,683 985.5,683 986.5,651 987.5,566 987.5,566 988.5,710 989.5,625 990.5,651 991.5,625 991.5,710 992.5,710 993.5,710 994.5,566 995.5,683 996.5,625 996.5,710 997.5,566 998.5,566 999.5,683 1000.5,710 1000.5,710 1001.5,683 1002.5,683 1003.5,625 1004.5,651 1004.5,683 1005.5,651 1006.5,710 1007.5,743 1008.5,743 1009.5,710 1009.5,743 1010.5,743 1011.5,710 1012.5,683 1013.5,683 1013.5,593 1014.5,683 1015.5,710 1016.5,683 1017.5,743 1017.5,710 1018.5,651 1019.5,710 1020.5,593 1021.5,683 1022.5,683 1022.5,743 1023.5,743 1024.5,683 1025.5,683 1026.5,593 1026.5,710 1027.5,710 1028.5,683 1029.5,625 1030.5,651 1030.5,683 1031.5,743 1032.5,651 1033.5,743 1034.5,651 1035.5,710 1035.5,651 1036.5,683 1037.5,710 1038.5,710 1039.5,651 1039.5,593 1040.5,651 1041.5,683 1042.5,710 1043.5,683 1043.5,683 1044.5,683 1045.5,710 1046.5,683 1047.5,743 1048.5,710 1048.5,683 1049.5,651 1050.5,710 1051.5,683 1052.5,625 1052.5,625 1053.5,651 1054.5,710 1055.5,683 1056.5,710 1056.5,683 1057.5,710 1058.5,743 1059.5,743 1060.5,743 1061.5,625 1061.5,651 1062.5,710 1063.5,593 1064.5,625 1065.5,683 1065.5,651 1066.5,683 1067.5,683 1068.5,683 1069.5,710 1069.5,743 1070.5,743 1071.5,710 1072.5,743 1073.5,683 1074.5,683 1074.5,651 1075.5,683 1076.5,651 1077.5,651 1078.5,651 1078.5,651 1079.5,651 1080.5,683 1081.5,683 1082.5,743 1082.5,651 1083.5,710 1084.5,625 1085.5,710 1086.5,593 1087.5,710 1087.5,710 1088.5,683 1089.5,683 1090.5,710 1091.5,710 1091.5,743 1092.5,710 1093.5,743 1094.5,593 1095.5,651 1095.5,683 1096.5,710 1097.5,710 1098.5,743 1099.5,683 1100.5,710 1100.5,743 1101.5,743 1102.5,710 1103.5,710 1104.5,625 1104.5,710 1105.5,683 1106.5,683 1107.5,710 1108.5,710 1108.5,651 1109.5,743 1110.5,710 1111.5,683 1112.5,683 1113.5,625 1113.5,683 1114.5,683 1115.5,651 1116.5,683 1117.5,683 1117.5,710 1118.5,683 1119.5,593 1120.5,625 1121.5,625 1121.5,625 1122.5,651 1123.5,710 1124.5,710 1125.5,743 1126.5,651 1126.5,743 1127.5,768 1128.5,710 1129.5,683 1130.5,743 1130.5,743 1131.5,683 1132.5,683 1133.5,768 1134.5,710 1134.5,743 1135.5,743 1136.5,710 1137.5,710 1138.5,710 1139.5,768 1139.5,768 1140.5,651 1141.5,683 1142.5,710 1143.5,768 1143.5,710 1144.5,710 1145.5,683 1146.5,743 1147.5,710 1147.5,710 1148.5,710 1149.5,743 1150.5,710 1151.5,743 1152.5,683 1152.5,683 1153.5,710 1154.5,743 1155.5,683 1156.5,768 1156.5,710 1157.5,768 1158.5,710 1159.5,710 1160.5,710 1160.5,710 1161.5,768 1162.5,710 1163.5,768 1164.5,710 1165.5,768 1165.5,710 1166.5,710 1167.5,710 1168.5,743 1169.5,743 1169.5,710 1170.5,710 1171.5,768 1172.5,743 1173.5,768 1173.5,710 1174.5,710 1175.5,710 1176.5,768 1177.5,710 1178.5,768 1178.5,710 1179.5,710 1180.5,768 1181.5,743 1182.5,743 1182.5,710 1183.5,768 1184.5,743 1185.5,710 1186.5,768 1186.5,743 1187.5,710 1188.5,743 1189.5,768 1190.5,710 1191.5,768 1191.5,710 1192.5,710 1193.5,710 1194.5,710 1195.5,768 1195.5,768 1196.5,710 1197.5,743 1198.5,683 1199.5,768 1199.5,743 1200.5,768 1201.5,768 1202.5,710 1203.5,710 1204.5,710 1204.5,710 1205.5,710 1206.5,710 1207.5,710 1208.5,743 1208.5,743 1209.5,768 1210.5,768 1211.5,710 1212.5,768 1212.5,768 1213.5,710 1214.5,710 1215.5,743 1216.5,768 1217.5,710 1217.5,710 1218.5,710 1219.5,710 1220.5,768 1221.5,768 1221.5,710 1222.5,743 1223.5,683 1224.5,768 1225.5,710 1225.5,710 1226.5,710 1227.5,768 1228.5,768 1229.5,743 1230.5,743 1230.5,710 1231.5,768 1232.5,710 1233.5,710 1234.5,710 1234.5,743 1235.5,768 1236.5,743 1237.5,743 1238.5,710 1238.5,743 1239.5,710 1240.5,743 1241.5,710 1242.5,710 1243.5,768 1243.5,768 1244.5,710 1245.5,710 1246.5,743 1247.5,743 1247.5,710 1248.5,743 1249.5,768 1250.5,710 1251.5,743 1251.5,768 1252.5,743 1253.5,743 1254.5,743 1255.5,710 1256.5,710 1256.5,710 1257.5,743 1258.5,710 1259.5,710 1260.5,743 1260.5,768 1261.5,743 1262.5,768 1263.5,710 1264.5,768 1264.5,768 1265.5,743 1266.5,768 1267.5,768 1268.5,768 1269.5,743 1269.5,768 1270.5,768 1271.5,743 1272.5,743 1273.5,768 1273.5,768 1274.5,710 1275.5,768 1276.5,710 1277.5,768 1277.5,651 1278.5,651 1279.5,710 1280.5,768 1281.5,768 1282.5,710 1282.5,710 1283.5,710 1284.5,768 1285.5,768 1286.5,743 1286.5,768 1287.5,710 1288.5,743 1289.5,710 1290.5,743 1290.5,768 1291.5,743 1292.5,743 1293.5,768 1294.5,743 1295.5,743 1295.5,743 1296.5,710 1297.5,710 1298.5,768 1299.5,768 1299.5,768 1300.5,768 1301.5,768 1302.5,710 1303.5,768 1303.5,710 1304.5,710 1305.5,651 1306.5,743 1307.5,743 1308.5,768 1308.5,743 1309.5,710 1310.5,710 1311.5,710 1312.5,768 1312.5,743 1313.5,768 1314.5,743 1315.5,710 1316.5,710 1316.5,768 1317.5,710 1318.5,710 1319.5,710 1320.5,768 1321.5,743" fill="none" stroke="#8000ff" stroke-width="1" shape-rendering="crispEdges"/>
<polyline points="151.5,767.5 227.5,767.5 228.5,742.5 254.5,742.5 255.5,767.5 370.5,767.5 371.5,742.5 452.5,742.5 453.5,767.5 458.5,767.5 460.5,742.5 503.5,742.5 504.5,709.5 516.5,709.5 517.5,742.5 537.5,742.5 539.5,767.5 593.5,767.5 594.5,742.5 613.5,742.5 614.5,767.5 622.5,767.5 623.5,742.5 630.5,742.5 631.5,767.5 636.5,767.5 637.5,742.5 647.5,742.5 648.5,767.5 660.5,767.5 661.5,742.5 677.5,742.5 675.5,709.5 677.5,709.5 677.5,709.5 684.5,709.5 684.5,742.5 691.5,742.5 692.5,709.5 700.5,709.5 701.5,742.5 708.5,742.5 709.5,709.5 712.5,709.5 713.5,742.5 724.5,742.5 726.5,709.5 729.5,709.5 729.5,682.5 732.5,682.5 733.5,709.5 736.5,709.5 737.5,742.5 749.5,742.5 750.5,709.5 761.5,709.5 761.5,742.5 768.5,742.5 769.5,709.5 777.5,709.5 777.5,682.5 789.5,682.5 791.5,709.5 801.5,709.5 802.5,742.5 803.5,742.5 803.5,709.5 811.5,709.5 813.5,682.5 829.5,682.5 830.5,709.5 853.5,709.5 854.5,682.5 858.5,682.5 859.5,709.5 876.5,709.5 877.5,742.5 890.5,742.5 891.5,709.5 906.5,709.5 907.5,682.5 911.5,682.5 912.5,709.5 916.5,709.5 916.5,742.5 917.5,742.5 918.5,709.5 929.5,709.5 931.5,742.5 933.5,742.5 936.5,682.5 946.5,682.5 948.5,709.5 972.5,709.5 973.5,650.5 982.5,650.5 983.5,682.5 996.5,682.5 998.5,709.5 1002.5,709.5 1003.5,742.5 1009.5,742.5 1010.5,682.5 1015.5,682.5 1016.5,709.5 1030.5,709.5 1031.5,682.5 1033.5,682.5 1034.5,709.5 1047.5,709.5 1048.5,742.5 1052.5,742.5 1053.5,767.5 1055.5,767.5 1056.5,742.5 1058.5,742.5 1059.5,767.5 1060.5,767.5 1061.5,742.5 1063.5,742.5 1064.5,709.5 1084.5,709.5 1085.5,742.5 1087.5,742.5 1088.5,709.5 1092.5,709.5 1094.5,682.5 1098.5,682.5 1100.5,709.5 1115.5,709.5 1116.5,742.5 1124.5,742.5 1125.5,709.5 1130.5,709.5 1131.5,742.5 1141.5,742.5 1142.5,742.5 1153.5,742.5 1154.5,742.5 1157.5,742.5 1158.5,767.5 1172.5,767.5 1173.5,767.5 1179.5,767.5 1180.5,742.5 1189.5,742.5 1190.5,742.5 1199.5,742.5 1200.5,742.5 1204.5,742.5 1205.5,742.5 1220.5,742.5 1221.5,742.5 1234.5,742.5 1235.5,742.5 1238.5,742.5 1239.5,742.5 1250.5,742.5 1251.5,767.5 1254.5,767.5 1255.5,742.5 1264.5,742.5 1265.5,742.5 1280.5,742.5 1281.5,742.5 1297.5,742.5 1298.5,742.5 1312.5,742.5 1313.5,709.5 1321.5,709.5" fill="none" stroke="#000" stroke-width="1" shape-rendering="crispEdges"/>
<rect x="152" y="623" width="1168" height="2" fill="#000" shape-rendering="crispEdges"/>
<defs><clipPath id="pc"><rect x="152" y="49" width="1168" height="718"/></clipPath></defs><g clip-path="url(#pc)">
<polyline points="151.0,226.0 155.3,226.1 159.7,225.6 164.0,223.9 168.3,223.4 172.7,224.0 177.0,223.3 181.3,222.7 185.7,221.7 190.0,221.5 194.0,221.6 198.0,221.6 202.0,221.6 206.0,220.9 210.0,221.3 214.0,221.2 218.0,221.7 222.0,222.0 226.0,221.9 230.0,221.4 234.0,221.2 238.0,220.9 242.0,220.6 246.0,220.6 250.0,221.2 254.0,220.9 258.0,221.0 262.0,221.7 266.0,221.2 270.0,221.2 274.0,220.7 278.0,220.4 282.0,220.8 286.0,220.5 290.0,221.0 294.4,220.4 298.8,220.5 303.2,219.4 307.6,218.2 312.0,218.0 316.2,218.8 320.4,218.9 324.7,219.0 328.9,219.5 333.1,219.5 337.3,219.7 341.6,219.4 345.8,220.5 350.0,220.0 354.0,220.7 358.0,219.6 362.0,220.5 366.0,220.5 370.0,220.1 374.0,220.3 378.0,220.3 382.0,220.9 386.0,220.3 390.0,220.8 394.0,220.2 398.0,221.0 402.0,220.5 406.0,220.6 410.0,219.4 414.0,219.1 418.0,219.1 422.0,218.3 426.0,217.5 430.0,217.0 434.3,216.1 438.7,215.8 443.0,215.6 447.1,215.9 451.2,215.1 455.3,216.2 459.4,215.3 463.6,216.2 467.7,215.3 471.8,216.2 475.9,215.9 480.0,215.6 486.0,218.8 491.0,218.8 496.0,218.8 501.0,218.8 505.0,218.5 509.0,218.0 513.0,217.1 517.0,216.5 521.0,216.5 525.0,216.0 530.0,217.3 535.0,217.5 540.0,218.0 544.2,217.4 548.3,218.3 552.5,218.2 556.6,218.4 560.8,217.3 564.9,218.0 569.1,217.0 573.2,217.8 577.4,217.2 581.5,217.1 585.7,217.9 589.8,216.8 594.0,217.3 598.2,217.6 602.4,218.3 606.5,217.7 610.7,217.9 614.9,219.1 619.1,218.7 623.3,219.3 627.5,218.6 631.6,219.3 635.8,219.3 640.0,220.0 644.0,220.5 648.0,219.9 652.0,221.4 656.0,220.3 660.0,221.6 664.0,220.8 668.0,221.4 672.0,222.4 676.0,221.8 680.0,222.1 684.0,223.0 688.0,223.0 692.1,223.2 696.2,223.0 700.4,224.7 704.5,223.9 708.6,224.0 712.8,224.8 716.9,225.5 721.0,225.7 725.0,226.3 729.0,225.7 733.0,226.2 737.0,226.1 741.0,226.9 745.0,227.6 749.0,227.5 753.3,228.1 757.7,228.6 762.0,228.7 766.3,229.1 770.7,229.2 775.0,229.1 779.3,229.1 783.7,229.9 788.0,230.0 792.3,229.8 796.7,229.6 801.0,230.2 805.3,230.9 809.7,229.9 814.0,230.7 818.3,230.5 822.7,230.7 827.0,230.8 831.6,231.3 836.2,233.5 840.8,233.6 845.4,235.1 850.0,236.0 854.1,236.0 858.2,235.6 862.3,236.5 866.4,236.0 870.5,236.0 874.6,236.1 878.7,236.4 882.8,236.5 886.9,237.4 891.0,237.3 895.3,237.7 899.7,238.8 904.0,239.1 908.3,239.6 912.7,239.0 917.0,239.7 921.3,239.8 925.7,240.7 930.0,241.0 934.0,241.3 938.0,241.7 942.0,241.8 946.0,241.3 950.0,241.7 954.0,242.0 958.0,241.4 962.0,241.6 966.0,242.3 970.0,242.0 974.0,242.7 978.1,243.2 982.3,242.6 986.4,242.6 990.5,242.8 994.7,243.0 998.8,243.1 1002.9,243.7 1007.1,243.8 1011.2,243.7 1015.3,244.3 1019.5,243.8 1023.6,244.9 1027.7,245.2 1031.9,245.0 1036.0,244.8 1040.2,244.9 1044.4,245.3 1048.6,245.6 1052.8,245.1 1057.0,246.0 1061.3,246.6 1065.7,247.4 1070.0,248.0 1074.0,247.7 1078.0,247.7 1082.0,248.9 1086.0,248.4 1090.0,248.8 1094.0,249.5 1098.0,249.2 1102.0,248.9 1106.0,250.0 1110.0,249.3 1114.0,248.9 1118.0,250.0 1122.0,249.3 1126.0,249.8 1130.0,250.2 1134.5,251.1 1139.0,251.3 1143.5,250.9 1148.0,252.0 1152.1,251.8 1156.2,251.7 1160.3,251.7 1164.4,251.2 1168.5,251.6 1172.6,250.8 1176.7,251.0 1180.8,251.0 1184.9,251.7 1189.0,251.0 1193.2,250.0 1197.5,250.5 1201.8,249.3 1206.0,249.4 1210.2,248.7 1214.5,248.3 1218.8,248.3 1223.0,247.4 1227.2,246.6 1231.5,246.1 1235.8,245.6 1240.0,245.8 1244.0,246.2 1248.0,245.7 1252.0,246.0 1256.0,245.5 1260.0,244.4 1264.0,245.2 1268.0,245.2 1272.0,245.0 1276.0,244.6 1280.0,244.2 1284.0,244.2 1288.0,244.6 1292.0,244.0 1296.1,243.4 1300.3,243.6 1304.4,243.3 1308.6,243.7 1312.7,243.3 1316.9,243.2 1321.0,242.4" fill="none" stroke="#00ff40" stroke-width="2" stroke-linejoin="round" stroke-linecap="round" shape-rendering="crispEdges"/>
<polyline points="151.0,513.0 153.8,513.0 156.7,513.0 159.5,513.0 162.3,513.0 165.2,513.0 168.0,513.0 170.6,514.0 173.3,515.0 175.9,516.0 178.6,517.0 181.2,518.0 183.9,519.0 186.5,520.0 189.0,520.3 191.5,520.5 194.1,520.8 196.6,521.1 199.1,521.3 201.6,521.6 204.2,521.6 206.8,521.6 209.4,521.6 212.0,521.6 214.6,521.6 217.2,521.6 219.8,521.6 222.3,523.1 224.8,524.5 227.3,526.0 229.8,526.7 232.3,527.3 234.9,528.0 237.4,528.7 239.9,529.3 242.4,530.0 245.4,530.6 248.4,531.1 251.4,531.7 254.4,532.2 257.4,532.8 260.0,532.4 262.7,532.0 265.4,531.7 268.0,531.3 270.7,532.3 273.4,533.3 276.1,534.3 278.8,535.2 281.5,536.2 284.2,537.2 286.9,538.2 289.6,539.2 292.4,539.7 295.1,540.3 297.9,540.8 300.7,541.4 303.5,541.9 306.2,542.5 309.0,543.0 311.7,543.6 314.4,544.2 317.1,544.8 319.8,545.4 322.4,546.0 325.1,546.6 327.8,547.2 330.5,547.8 333.3,548.1 336.1,548.3 338.9,548.6 341.6,548.8 344.4,549.1 347.2,549.3 350.0,549.6 352.7,550.5 355.4,551.4 358.2,552.2 360.9,553.1 363.6,554.0 366.2,554.4 368.7,554.8 371.2,555.2 373.8,555.6 376.4,556.0 378.9,556.4 381.4,556.8 384.0,557.2 386.6,557.7 389.1,558.1 391.6,558.5 394.2,558.9 396.8,559.3 399.3,559.7 401.8,560.1 404.4,560.5 407.2,561.0 409.9,561.6 412.7,562.1 415.5,562.7 418.3,563.2 421.0,563.8 423.8,564.3 426.5,564.4 429.3,564.6 432.0,564.7 434.8,564.8 437.5,564.9 440.3,565.1 443.0,565.2 445.6,565.2 448.2,565.2 450.8,565.2 453.4,565.2 456.0,565.2 458.6,565.2 461.2,565.2 463.8,565.2 466.4,565.2 469.0,565.2 471.5,565.0 474.0,564.7 476.5,564.5 479.0,564.2 481.5,564.0 484.0,563.7 487.2,561.5 490.4,559.4 493.1,557.9 495.8,556.5 498.5,555.0 501.1,553.5 503.8,552.0 506.5,550.5 509.2,549.1 511.9,547.6 514.6,545.2 517.2,542.8 519.9,540.3 522.6,537.9 526.3,535.8 530.0,533.8 532.6,532.2 535.1,530.6 537.7,529.0 540.6,525.9 543.5,522.7 546.4,519.5 549.3,516.4 552.5,516.4 555.8,516.4 559.0,516.4 561.6,513.1 564.2,511.7 566.8,508.7 569.3,507.1 571.9,504.7 574.5,501.9 577.4,502.9 580.3,506.7 583.2,505.5 586.1,508.4 589.0,506.9 591.9,507.2 594.8,510.0 597.7,508.7 600.9,508.6 604.2,509.8 607.4,508.7 610.6,510.9 613.8,513.6 617.0,515.4 619.7,513.9 622.4,515.1 625.2,515.4 627.9,514.0 630.6,513.5 634.4,519.3 637.0,520.7 639.6,521.1 642.2,521.2 645.4,515.3 648.7,513.0 651.9,507.7 655.1,506.7 658.3,504.5 661.5,503.8 664.7,501.7 668.0,503.7 671.2,501.9 674.4,506.0 677.7,511.0 680.9,514.5 683.8,511.4 686.7,505.8 689.3,508.4 691.8,511.0 694.4,511.6 697.3,506.9 700.2,502.9 705.0,517.4 708.4,511.6 711.8,503.8 716.7,512.5 719.5,500.0 722.6,496.3 725.7,494.3 728.8,489.4 731.3,494.7 733.9,497.5 736.8,496.4 739.8,496.8 742.7,498.2 747.1,479.9 750.4,480.8 753.7,483.5 756.7,492.7 759.6,498.9 762.5,496.9 765.5,495.3 769.1,498.9 772.8,485.7 775.5,483.7 778.2,480.2 780.9,478.4 784.5,485.0 787.5,485.0 790.4,485.0 793.0,480.6 795.5,476.9 798.8,481.6 802.1,487.2 804.7,486.4 807.2,485.3 809.8,485.2 812.4,482.8 815.3,484.5 818.3,485.0 821.2,487.1 824.1,487.6 827.1,488.8 830.0,488.5 832.9,488.7 837.3,504.1 840.2,503.4 843.2,504.8 846.0,501.7 848.7,497.8 851.5,493.4 854.2,487.9 857.5,493.6 860.8,498.9 863.7,502.5 866.7,503.8 869.6,507.7 874.0,506.3 876.9,513.6 881.3,511.4 883.9,515.8 886.6,518.4 889.2,520.9 891.9,523.5 894.5,528.3 897.4,527.7 900.4,526.3 903.3,521.7 906.3,522.2 909.2,519.5 913.6,524.6 916.5,519.4 919.5,513.6 922.4,509.1 925.3,504.8 928.0,503.1 930.3,510.4 933.2,512.7 936.1,513.3 940.5,505.3 945.0,504.5 949.3,513.3 953.7,510.4 957.4,513.8 961.0,514.8 965.5,508.2 969.9,514.0 972.5,513.1 975.0,515.5 977.5,514.3 980.1,516.3 984.5,508.9 987.5,510.0 990.4,509.1 993.3,511.2 996.3,510.4 999.2,516.7 1002.1,519.9 1005.0,519.4 1008.0,520.4 1011.0,517.6 1013.9,517.7 1016.8,515.2 1019.7,515.5 1022.7,519.9 1025.6,513.3 1028.5,514.4 1031.5,513.3 1034.4,514.6 1037.4,516.0 1040.3,517.0 1042.8,517.2 1045.4,515.5 1048.0,515.0 1050.5,516.3 1054.9,523.6 1057.8,526.2 1060.8,525.9 1063.7,528.0 1066.6,519.9 1069.5,518.8 1072.5,514.8 1075.4,516.3 1078.4,514.9 1081.3,515.5 1084.2,520.7 1087.2,519.8 1090.1,519.3 1093.0,518.9 1096.0,517.7 1098.9,515.5 1101.8,512.6 1104.8,515.3 1107.7,517.7 1111.3,517.4 1115.0,516.3 1118.0,519.5 1120.9,519.9 1123.9,519.9 1127.0,519.7 1130.0,519.9 1132.5,519.1 1135.0,518.2 1137.5,517.4 1140.0,516.6 1142.5,515.8 1145.0,514.9 1147.5,514.1 1150.2,512.8 1152.9,511.4 1155.5,510.1 1158.2,508.7 1160.9,507.4 1163.6,506.0 1166.2,504.7 1168.9,503.3 1171.6,502.0 1174.3,500.7 1177.0,499.3 1179.6,498.0 1182.3,496.7 1185.0,495.3 1187.7,494.0 1190.3,492.7 1193.0,491.3 1195.7,490.0 1198.2,490.3 1200.7,490.6 1203.2,491.0 1205.7,491.3 1208.2,491.6 1210.7,491.9 1213.2,492.2 1215.7,492.5 1218.2,492.9 1220.7,493.2 1223.2,493.5 1225.8,494.0 1228.5,494.5 1231.1,495.0 1233.7,495.5 1236.4,496.0 1239.0,496.5 1241.6,497.0 1244.3,497.5 1246.9,498.0 1249.6,498.5 1252.2,499.0 1254.8,499.5 1257.5,500.0 1260.1,500.5 1262.7,501.0 1265.4,501.5 1268.0,502.0 1270.7,502.8 1273.3,503.6 1276.0,504.3 1278.7,505.1 1281.3,505.9 1284.0,506.7 1286.7,507.4 1289.3,508.2 1292.0,509.0 1294.6,509.2 1297.3,509.5 1299.9,509.7 1302.5,510.0 1305.2,510.2 1307.8,510.5 1310.5,510.7 1313.1,511.0 1315.7,511.2 1318.4,511.5 1321.0,511.7" fill="none" stroke="#007f3f" stroke-width="2" stroke-linejoin="round" stroke-linecap="round" shape-rendering="crispEdges"/>
<polyline points="151.0,185.0 154.2,185.0 157.5,185.0 160.8,181.2 164.0,177.5 166.5,177.5 169.1,177.5 171.6,177.5 174.2,177.5 176.7,177.5 179.3,177.5 181.8,177.5 184.4,177.5 186.9,177.5 189.5,177.5 192.0,177.5 195.0,174.8 198.0,172.0 200.7,171.3 203.3,170.7 206.0,170.0 208.8,170.0 211.6,170.0 214.4,170.0 217.2,170.0 220.0,170.0 223.0,172.5 226.0,175.0 229.5,176.0 233.0,177.0 235.5,177.0 238.0,177.0 240.5,177.0 243.0,177.0 245.5,177.0 248.1,177.0 250.6,177.0 253.1,177.0 255.6,177.0 258.1,177.0 260.6,177.0 264.3,173.5 268.0,170.0 271.0,171.0 274.0,172.0 276.7,173.3 279.3,174.7 282.0,176.0 284.5,176.0 287.0,176.0 289.5,176.0 292.0,176.0 295.0,173.0 298.0,170.0 300.5,170.0 303.0,170.0 305.5,170.0 308.0,170.0 310.5,170.0 313.0,170.0 315.5,170.0 318.0,170.0 321.0,166.8 324.0,163.5 327.0,163.5 330.0,163.5 333.0,163.5 336.0,160.1 339.0,156.6 341.8,156.4 344.5,156.3 347.2,156.2 350.0,156.0 352.5,156.0 355.0,156.0 357.6,156.0 360.1,156.0 362.6,156.0 365.1,156.0 367.7,156.0 370.2,156.0 372.7,156.0 375.2,156.0 377.8,156.0 380.3,156.0 382.8,156.0 385.3,156.0 387.9,156.0 390.4,156.0 392.9,156.0 395.4,156.0 398.0,156.0 400.5,156.0 403.0,156.0 406.6,151.8 409.8,153.9 413.0,156.0 415.8,156.0 418.5,156.0 421.2,156.0 424.0,156.0 427.0,151.8 429.7,150.2 432.4,148.6 435.0,148.6 437.5,148.6 440.1,148.6 442.6,148.6 445.2,148.6 447.7,148.6 450.3,148.6 452.8,148.6 455.4,148.6 457.9,148.6 460.5,148.6 463.0,148.6 465.6,148.6 468.1,148.6 470.7,148.6 473.2,148.6 475.8,148.6 478.3,148.6 480.9,148.6 483.4,148.6 486.0,148.6 487.0,146.9 489.5,147.3 492.0,147.8 494.5,148.2 497.0,148.6 501.0,154.4 503.8,154.7 506.5,155.0 509.2,158.1 512.0,161.2 516.0,167.7 518.8,166.3 521.5,165.0 524.7,171.6 527.4,174.1 530.0,176.5 532.7,181.9 535.4,187.4 538.8,186.1 542.2,184.7 544.9,186.0 547.6,192.1 550.3,198.2 554.4,213.0 557.0,218.5 559.8,224.0 562.5,225.3 565.2,226.6 567.9,227.9 570.6,229.3 573.3,232.0 577.4,242.9 580.0,256.4 582.8,270.0 586.8,280.7 590.9,298.3 593.0,302.0 596.1,306.2 599.2,310.4 603.3,322.7 605.3,330.8 607.3,327.8 610.4,337.0 612.4,345.0 616.5,351.2 618.6,359.4 621.2,361.4 623.7,363.5 626.7,367.6 629.8,367.6 631.8,375.7 633.9,382.9 637.0,384.4 640.0,386.0 642.0,395.1 644.5,393.6 647.1,394.0 651.2,381.8 655.3,390.0 658.3,390.6 661.4,394.0 665.5,400.2 668.5,402.4 671.6,405.3 674.7,416.5 677.8,424.7 681.8,429.8 684.9,420.6 688.0,418.6 692.0,434.9 696.1,439.0 700.2,443.0 704.3,457.3 706.3,471.6 708.4,469.6 712.4,457.3 716.5,469.6 719.6,453.3 722.7,449.5 725.7,448.2 730.0,451.2 733.9,472.5 736.8,472.4 739.8,475.1 742.7,477.0 747.1,449.8 750.8,458.3 754.5,463.7 757.0,475.8 759.6,485.7 764.0,480.6 766.5,485.6 769.1,488.7 772.8,474.0 775.5,469.8 778.2,467.8 780.9,464.5 784.5,477.0 787.5,472.5 790.4,480.6 793.0,473.9 795.5,468.9 798.8,477.6 802.1,488.7 805.1,491.6 808.0,487.2 810.9,485.7 815.3,493.0 818.2,488.7 821.2,486.5 824.9,493.1 828.5,496.7 831.1,495.3 833.7,491.6 838.0,513.6 840.6,514.7 843.2,513.6 846.9,508.8 850.5,501.9 854.9,501.1 859.3,516.5 863.0,519.8 866.6,525.3 871.0,531.2 874.0,524.6 876.9,531.2 881.3,528.3 884.2,534.9 886.8,537.1 889.4,541.2 891.9,544.5 894.5,546.6 898.1,546.4 901.8,543.7 905.5,542.9 909.2,539.3 912.1,540.0 915.0,543.7 918.0,539.3 920.9,534.1 923.7,533.9 925.1,519.9 928.8,518.5 931.0,527.3 934.7,529.5 937.6,525.3 940.5,519.9 945.0,517.0 949.3,527.3 953.7,524.3 957.4,526.5 961.0,528.7 965.5,521.4 969.9,527.3 972.5,526.2 975.0,527.4 977.5,526.1 980.1,527.7 983.0,520.7 987.5,519.9 990.4,521.7 993.4,521.7 996.3,520.7 999.2,528.7 1002.1,530.7 1005.0,532.4 1008.0,529.5 1011.0,528.0 1013.9,530.0 1016.9,529.4 1019.8,531.0 1022.7,530.2 1025.6,524.3 1028.5,526.8 1031.5,526.8 1034.4,528.0 1038.1,528.4 1041.7,529.5 1044.6,527.9 1047.6,525.3 1050.5,523.6 1054.9,531.7 1058.6,531.9 1062.2,534.6 1065.9,526.5 1069.2,519.5 1072.5,514.0 1075.5,512.2 1078.4,508.2 1081.3,508.4 1084.2,511.9 1087.2,506.0 1090.1,505.3 1093.1,508.4 1096.0,508.9 1098.9,505.2 1101.8,503.1 1105.5,505.4 1109.2,507.5 1112.1,504.8 1115.0,502.3 1118.7,502.3 1122.4,503.4 1124.9,502.6 1127.5,497.2 1130.0,495.7 1132.8,491.5 1135.6,487.3 1138.4,483.0 1141.2,478.8 1144.0,474.6 1146.6,471.2 1149.2,467.7 1151.8,464.2 1154.3,460.8 1156.9,457.4 1159.5,453.9 1162.1,450.4 1164.7,447.0 1167.5,440.8 1170.2,434.6 1173.0,428.4 1175.7,422.2 1178.5,416.0 1181.2,407.1 1184.0,398.2 1186.7,389.2 1189.5,380.3 1192.2,371.4 1195.0,365.9 1197.7,360.4 1200.5,354.8 1203.2,349.3 1206.0,343.8 1208.9,337.8 1211.7,331.8 1214.6,325.8 1217.5,319.7 1220.3,313.7 1223.2,307.7 1225.8,304.3 1228.3,300.8 1230.9,297.4 1233.5,293.9 1236.1,290.5 1238.7,287.1 1241.2,283.6 1243.8,280.2 1246.6,277.2 1249.3,274.3 1252.1,271.3 1254.8,268.4 1257.6,265.4 1260.5,263.8 1263.3,262.3 1266.2,260.8 1269.1,259.2 1271.9,257.7 1274.8,256.1 1277.7,255.8 1280.5,255.5 1283.4,255.2 1286.3,255.0 1289.1,254.7 1292.0,254.4 1295.5,252.4 1298.9,250.3 1301.6,249.6 1304.4,248.9 1307.1,248.2 1309.9,247.5 1312.6,246.8 1315.4,245.7 1318.2,244.5 1321.0,243.4" fill="none" stroke="#7f3f00" stroke-width="2" stroke-linejoin="round" stroke-linecap="round" shape-rendering="crispEdges"/>
<polyline points="149.0,468.0 168.0,471.0 191.0,480.0 202.0,482.5 224.0,482.5 238.0,488.0 255.0,491.0 277.0,494.0 298.0,500.0 326.0,511.0 338.0,514.0 366.0,521.0 394.0,526.0 409.0,528.0 426.0,533.0 445.0,534.0 467.0,534.0 484.0,532.5 501.0,518.6 521.0,501.0 538.0,480.0 544.0,469.5 567.0,437.0 588.0,417.6 598.2,406.3 614.5,392.0 628.8,382.9 645.1,374.7 657.4,361.4 665.6,353.3 673.7,348.2 681.9,347.1 690.0,337.0 696.2,326.7 703.3,318.6 710.4,314.5 718.6,312.4 728.0,302.2 732.0,298.0 752.0,288.0 765.0,285.0 781.0,280.0 799.0,271.0 825.0,270.0 843.0,269.5 853.0,262.5 866.0,259.0 879.0,261.7 902.0,261.7 920.0,264.0 929.0,261.0 937.0,265.6 972.0,267.0 982.0,269.5 997.0,268.0 1012.0,269.5 1034.0,268.0 1047.0,272.7 1060.0,272.7 1075.0,284.5 1083.0,289.0 1098.0,288.4 1113.0,292.0 1128.0,303.0 1142.0,314.6 1166.0,326.6 1194.0,359.0 1221.0,395.0 1249.0,419.5 1273.0,430.0 1297.0,437.0 1319.0,443.0" fill="none" stroke="#ff8000" stroke-width="2" stroke-linejoin="round" stroke-linecap="round" shape-rendering="crispEdges"/>
<polyline points="151.0,468.0 170.0,471.0 193.0,480.0 204.0,482.5 226.0,482.5 240.0,488.0 257.0,491.0 279.0,494.0 300.0,500.0 328.0,511.0 340.0,514.0 368.0,521.0 396.0,526.0 411.0,528.0 428.0,533.0 447.0,534.0 469.0,534.0 486.0,532.5 503.0,518.6 523.0,501.0 540.0,480.0 546.0,469.5 569.0,437.0 590.0,417.6 600.2,406.3 616.5,392.0 630.8,382.9 647.1,374.7 659.4,361.4 667.6,353.3 675.7,348.2 683.9,347.1 692.0,337.0 698.2,326.7 705.3,318.6 712.4,314.5 720.6,312.4 730.0,302.2 734.0,298.0 754.0,288.0 767.0,285.0 783.0,280.0 801.0,271.0 827.0,270.0 845.0,269.5 855.0,262.5 868.0,259.0 881.0,261.7 904.0,261.7 922.0,264.0 931.0,261.0 939.0,265.6 974.0,267.0 984.0,269.5 999.0,268.0 1014.0,269.5 1036.0,268.0 1049.0,272.7 1062.0,272.7 1077.0,284.5 1085.0,289.0 1100.0,288.4 1115.0,292.0 1130.0,303.0 1144.0,314.6 1168.0,326.6 1196.0,359.0 1223.0,395.0 1251.0,419.5 1275.0,430.0 1299.0,437.0 1321.0,443.0" fill="none" stroke="#0000ff" stroke-width="2" stroke-linejoin="round" stroke-linecap="round" shape-rendering="crispEdges"/>
<polyline points="151.0,496.0 157.0,496.0 163.0,504.0 177.0,504.0 179.0,500.0 184.0,504.0 200.0,504.0 203.0,510.0 214.0,510.0 219.0,506.0 224.0,511.0 249.0,511.0 250.0,515.0 255.0,519.5 264.0,527.0 272.5,520.6 279.0,520.0 283.0,526.0 292.0,535.6 304.0,535.6 309.0,542.7 352.0,542.8 354.0,548.6 360.0,551.4 366.0,545.4 375.0,543.3 471.0,543.3 474.0,539.0 482.0,536.4 488.0,529.0 496.0,515.0 510.0,505.7 516.0,502.4 525.0,489.6 530.0,481.0 534.5,462.7 543.0,447.0 551.0,445.4 559.0,416.4 565.0,418.0 572.0,429.3 590.0,420.6 598.2,407.3 605.3,407.3 616.5,400.2 628.8,392.0 632.9,385.9 639.0,383.9 647.1,383.9 651.2,377.8 659.4,363.5 669.6,360.4 673.7,353.3 676.7,341.0 679.8,328.8 682.9,316.5 685.9,298.2 689.4,250.5 691.0,218.3 693.0,214.0 695.2,185.7 699.0,172.8 701.6,169.0 705.5,147.0 710.6,131.6 714.5,125.0 718.4,135.4 724.8,138.0 731.2,126.4 735.0,144.5 737.7,140.6 742.8,157.3 749.3,118.7 754.5,122.5 759.6,117.4 763.5,123.8 768.6,121.2 775.0,139.3 780.2,130.3 786.7,136.7 791.8,123.8 795.7,101.9 798.3,108.4 800.9,121.2 803.4,118.7 807.3,123.8 809.9,119.2 813.7,127.7 817.6,126.4 825.3,100.1 829.2,109.6 835.7,104.5 842.1,120.0 848.5,101.9 852.4,120.0 857.6,110.9 864.0,101.1 869.2,118.7 875.6,118.7 879.5,135.4 882.0,126.4 888.5,147.0 893.7,196.0 898.8,239.8 904.0,265.6 911.7,277.2 923.3,280.6 935.0,281.3 938.3,283.5 944.7,279.8 953.3,287.8 978.0,288.4 980.0,291.0 988.7,289.3 1002.7,289.3 1010.2,294.2 1018.8,289.9 1023.0,292.0 1031.7,289.3 1036.0,282.4 1038.0,245.9 1041.3,220.0 1045.6,192.2 1048.0,185.0 1050.0,181.5 1052.0,180.4 1054.0,182.0 1055.3,190.0 1058.5,241.6 1061.7,271.7 1068.2,299.6 1076.8,317.8 1085.3,318.9 1094.0,312.5 1098.2,313.5 1102.5,318.9 1109.0,320.0 1117.6,329.6 1124.0,336.0 1132.0,336.3 1140.6,346.6 1154.4,352.4 1163.0,367.9 1173.3,387.9 1187.0,400.6 1200.8,418.8 1211.2,426.4 1223.2,440.2 1237.0,454.6 1252.4,455.6 1261.0,468.4 1278.2,456.7 1288.6,463.5 1316.0,464.2 1321.0,470.4" fill="none" stroke="#ff0000" stroke-width="2" stroke-linejoin="round" stroke-linecap="round" shape-rendering="crispEdges"/>
</g>
<g shape-rendering="crispEdges">
<rect x="150" y="47" width="1172" height="2" fill="#787878" />
<rect x="150" y="47" width="2" height="722" fill="#787878" />
<rect x="1320" y="47" width="2" height="722" fill="#787878" />
<rect x="150" y="767" width="1172" height="2" fill="#787878" />
<rect x="152" y="767" width="1168" height="2" fill="#00e0ff" />
<rect x="1149" y="767" width="172" height="3" fill="#00e0ff" />
</g>
<g shape-rendering="crispEdges">
<rect x="1" y="800" width="1431" height="90" fill="#ff8000" />
<rect x="87" y="800" width="1" height="88" fill="#e8eef4" />
<rect x="204" y="800" width="1" height="88" fill="#e8eef4" />
<rect x="322" y="800" width="1" height="88" fill="#e8eef4" />
<rect x="440" y="800" width="1" height="88" fill="#e8eef4" />
<rect x="558" y="800" width="1" height="88" fill="#e8eef4" />
<rect x="676" y="800" width="1" height="88" fill="#e8eef4" />
<rect x="795" y="800" width="1" height="88" fill="#e8eef4" />
<rect x="912" y="800" width="1" height="88" fill="#e8eef4" />
<rect x="0" y="890" width="1432" height="1" fill="#b0b0b0" />
<rect x="0" y="891" width="1432" height="1" fill="#ffffff" />
<rect x="1" y="892" width="86" height="1" fill="#a0a0a0" />
<rect x="1" y="892" width="1" height="38" fill="#a0a0a0" />
<rect x="2" y="893" width="84" height="36" fill="#2de31e" />
<rect x="86" y="892" width="1" height="38" fill="#ffffff" />
<rect x="1" y="929" width="86" height="1" fill="#ffffff" />
<rect x="88" y="892" width="116" height="1" fill="#a0a0a0" />
<rect x="88" y="892" width="1" height="38" fill="#a0a0a0" />
<rect x="89" y="893" width="114" height="36" fill="#2de31e" />
<rect x="203" y="892" width="1" height="38" fill="#ffffff" />
<rect x="88" y="929" width="116" height="1" fill="#ffffff" />
<rect x="205" y="892" width="117" height="1" fill="#a0a0a0" />
<rect x="205" y="892" width="1" height="38" fill="#a0a0a0" />
<rect x="206" y="893" width="115" height="36" fill="#2de31e" />
<rect x="321" y="892" width="1" height="38" fill="#ffffff" />
<rect x="205" y="929" width="117" height="1" fill="#ffffff" />
<rect x="323" y="892" width="117" height="1" fill="#a0a0a0" />
<rect x="323" y="892" width="1" height="38" fill="#a0a0a0" />
<rect x="324" y="893" width="115" height="36" fill="#2de31e" />
<rect x="439" y="892" width="1" height="38" fill="#ffffff" />
<rect x="323" y="929" width="117" height="1" fill="#ffffff" />
<rect x="441" y="892" width="117" height="1" fill="#a0a0a0" />
<rect x="441" y="892" width="1" height="38" fill="#a0a0a0" />
<rect x="442" y="893" width="115" height="36" fill="#2de31e" />
<rect x="557" y="892" width="1" height="38" fill="#ffffff" />
<rect x="441" y="929" width="117" height="1" fill="#ffffff" />
<rect x="559" y="892" width="873" height="1" fill="#a0a0a0" />
<rect x="559" y="892" width="1" height="38" fill="#a0a0a0" />
<rect x="560" y="893" width="871" height="36" fill="#2de31e" />
<rect x="1431" y="892" width="1" height="38" fill="#ffffff" />
<rect x="559" y="929" width="873" height="1" fill="#ffffff" />
<rect x="0" y="930" width="1432" height="1" fill="#a0a0a0" />
</g>
<g font-family="Liberation Sans" >
<text x="8" y="818" fill="#000" font-size="11" text-anchor="start" font-weight="bold" letter-spacing="0.3">Sensor</text>
<text x="8" y="834" fill="#000" font-size="11" text-anchor="start" font-weight="bold" letter-spacing="0.3">MinWert</text>
<text x="8" y="850" fill="#000" font-size="11" text-anchor="start" font-weight="bold" letter-spacing="0.3">MaxWert</text>
<text x="8" y="866" fill="#000" font-size="11" text-anchor="start" font-weight="bold" letter-spacing="0.3">Durchschnitt</text>
<text x="8" y="882" fill="#000" font-size="11" text-anchor="start" font-weight="bold" letter-spacing="0.3">20.06. 23:59</text>
<text x="95" y="818" fill="#000" font-size="11" text-anchor="start" font-weight="bold" letter-spacing="0.3">Temp. 2m</text>
<text x="198" y="818" fill="#000" font-size="11" text-anchor="end" font-weight="bold" >°C</text>
<text x="101" y="834" fill="#000" font-size="11" text-anchor="start" font-weight="normal" >05:57</text>
<text x="198" y="834" fill="#000" font-size="11" text-anchor="end" font-weight="normal" >6.2</text>
<text x="101" y="850" fill="#000" font-size="11" text-anchor="start" font-weight="normal" >14:35</text>
<text x="198" y="850" fill="#000" font-size="11" text-anchor="end" font-weight="normal" >25.4</text>
<text x="198" y="866" fill="#000" font-size="11" text-anchor="end" font-weight="normal" >16.47</text>
<text x="95" y="882" fill="#000" font-size="11" text-anchor="start" font-weight="normal" >F: 73 %</text>
<text x="198" y="882" fill="#000" font-size="11" text-anchor="end" font-weight="bold" >12.5</text>
<text x="212" y="818" fill="#000" font-size="11" text-anchor="start" font-weight="bold" letter-spacing="0.3">Temp. 5cm</text>
<text x="316" y="818" fill="#000" font-size="11" text-anchor="end" font-weight="bold" >°C</text>
<text x="218" y="834" fill="#000" font-size="11" text-anchor="start" font-weight="normal" >04:09</text>
<text x="316" y="834" fill="#000" font-size="11" text-anchor="end" font-weight="normal" >5.0</text>
<text x="218" y="850" fill="#000" font-size="11" text-anchor="start" font-weight="normal" >13:12</text>
<text x="316" y="850" fill="#000" font-size="11" text-anchor="end" font-weight="normal" >37.2</text>
<text x="316" y="866" fill="#000" font-size="11" text-anchor="end" font-weight="normal" >17.33</text>
<text x="316" y="882" fill="#000" font-size="11" text-anchor="end" font-weight="bold" >10.6</text>
<text x="330" y="818" fill="#000" font-size="11" text-anchor="start" font-weight="bold" letter-spacing="0.3">Feuchte A.</text>
<text x="434" y="818" fill="#000" font-size="11" text-anchor="end" font-weight="bold" >%</text>
<text x="336" y="834" fill="#000" font-size="11" text-anchor="start" font-weight="normal" >15:14</text>
<text x="434" y="834" fill="#000" font-size="11" text-anchor="end" font-weight="normal" >30</text>
<text x="336" y="850" fill="#000" font-size="11" text-anchor="start" font-weight="normal" >06:53</text>
<text x="434" y="850" fill="#000" font-size="11" text-anchor="end" font-weight="normal" >87</text>
<text x="434" y="866" fill="#000" font-size="11" text-anchor="end" font-weight="normal" >59</text>
<text x="330" y="882" fill="#000" font-size="11" text-anchor="start" font-weight="normal" >8.03 g/m³</text>
<text x="434" y="882" fill="#000" font-size="11" text-anchor="end" font-weight="bold" >73</text>
<text x="448" y="818" fill="#000" font-size="11" text-anchor="start" font-weight="bold" letter-spacing="0.3">Regen</text>
<text x="552" y="818" fill="#000" font-size="11" text-anchor="end" font-weight="bold" >l/m²</text>
<text x="454" y="850" fill="#000" font-size="11" text-anchor="start" font-weight="normal" >00:00</text>
<text x="552" y="850" fill="#000" font-size="11" text-anchor="end" font-weight="normal" >0.0</text>
<text x="448" y="866" fill="#000" font-size="11" text-anchor="start" font-weight="normal" >Gesamt:</text>
<text x="552" y="866" fill="#000" font-size="11" text-anchor="end" font-weight="normal" >0.0</text>
<text x="448" y="882" fill="#000" font-size="11" text-anchor="start" font-weight="normal" >0.0 l/m²</text>
<text x="552" y="882" fill="#000" font-size="11" text-anchor="end" font-weight="bold" >0.0</text>
<text x="566" y="818" fill="#000" font-size="11" text-anchor="start" font-weight="bold" letter-spacing="0.3">Luftdruck</text>
<text x="670" y="818" fill="#000" font-size="11" text-anchor="end" font-weight="bold" >hPa</text>
<text x="572" y="834" fill="#000" font-size="11" text-anchor="start" font-weight="normal" >20:16</text>
<text x="670" y="834" fill="#000" font-size="11" text-anchor="end" font-weight="normal" >1023.0</text>
<text x="572" y="850" fill="#000" font-size="11" text-anchor="start" font-weight="normal" >05:52</text>
<text x="670" y="850" fill="#000" font-size="11" text-anchor="end" font-weight="normal" >1026.1</text>
<text x="566" y="866" fill="#000" font-size="11" text-anchor="start" font-weight="normal" >^0.6hPa/h</text>
<text x="670" y="866" fill="#000" font-size="11" text-anchor="end" font-weight="normal" >1024.7</text>
<text x="566" y="882" fill="#000" font-size="11" text-anchor="start" font-weight="normal" >sonnig</text>
<text x="670" y="882" fill="#000" font-size="11" text-anchor="end" font-weight="bold" >1023.7</text>
<text x="684" y="818" fill="#000" font-size="11" text-anchor="start" font-weight="bold" letter-spacing="0.3">Sonnenschein</text>
<text x="789" y="818" fill="#000" font-size="11" text-anchor="end" font-weight="bold" >min</text>
<text x="690" y="850" fill="#000" font-size="11" text-anchor="start" font-weight="normal" >10:52</text>
<text x="789" y="850" fill="#000" font-size="11" text-anchor="end" font-weight="normal" >1</text>
<text x="684" y="866" fill="#000" font-size="11" text-anchor="start" font-weight="normal" >9:01 h</text>
<text x="789" y="866" fill="#000" font-size="11" text-anchor="end" font-weight="normal" >0</text>
<text x="789" y="882" fill="#000" font-size="11" text-anchor="end" font-weight="bold" >0</text>
<text x="803" y="818" fill="#000" font-size="11" text-anchor="start" font-weight="bold" letter-spacing="0.3">Windböen</text>
<text x="906" y="818" fill="#000" font-size="11" text-anchor="end" font-weight="bold" >km/h</text>
<text x="803" y="834" fill="#000" font-size="11" text-anchor="start" font-weight="normal" >Ø 10 min.</text>
<text x="906" y="834" fill="#000" font-size="11" text-anchor="end" font-weight="normal" >3.7</text>
<text x="809" y="850" fill="#000" font-size="11" text-anchor="start" font-weight="normal" >16:15</text>
<text x="906" y="850" fill="#000" font-size="11" text-anchor="end" font-weight="normal" >N 20.9</text>
<text x="809" y="866" fill="#000" font-size="11" text-anchor="start" font-weight="normal" >81.5 km</text>
<text x="906" y="866" fill="#000" font-size="11" text-anchor="end" font-weight="normal" >3.4</text>
<text x="809" y="882" fill="#000" font-size="11" text-anchor="start" font-weight="normal" >1 Bft N</text>
<text x="906" y="882" fill="#000" font-size="11" text-anchor="end" font-weight="bold" >3.2</text>
<text x="920" y="818" fill="#000" font-size="11" text-anchor="start" font-weight="bold" letter-spacing="0.3">Wind</text>
<text x="1022" y="818" fill="#000" font-size="11" text-anchor="end" font-weight="bold" >km/h</text>
<text x="920" y="834" fill="#000" font-size="11" text-anchor="start" font-weight="normal" >Ø 10 min.</text>
<text x="1022" y="834" fill="#000" font-size="11" text-anchor="end" font-weight="normal" >2.9</text>
<text x="926" y="850" fill="#000" font-size="11" text-anchor="start" font-weight="normal" >16:55</text>
<text x="1022" y="850" fill="#000" font-size="11" text-anchor="end" font-weight="normal" >NW 6.5</text>
<text x="926" y="866" fill="#000" font-size="11" text-anchor="start" font-weight="normal" >81.5 km</text>
<text x="1022" y="866" fill="#000" font-size="11" text-anchor="end" font-weight="normal" >1.7</text>
<text x="926" y="882" fill="#000" font-size="11" text-anchor="start" font-weight="normal" >1 Bft N</text>
<text x="1022" y="882" fill="#000" font-size="11" text-anchor="end" font-weight="bold" >1.4</text>
<text x="8" y="907" fill="#000" font-size="11" text-anchor="start" font-weight="normal" >Wetterdaten</text>
<text x="8" y="923" fill="#000" font-size="11" text-anchor="start" font-weight="normal" >20.06.25 23:59</text>
<text x="95" y="907" fill="#000" font-size="11" text-anchor="start" font-weight="normal" >Temp. I.</text>
<text x="198" y="907" fill="#000" font-size="11" text-anchor="end" font-weight="normal" >24.2 °C</text>
<text x="95" y="923" fill="#000" font-size="11" text-anchor="start" font-weight="normal" >Feuchte I.</text>
<text x="198" y="923" fill="#000" font-size="11" text-anchor="end" font-weight="normal" >42 %</text>
<text x="212" y="907" fill="#000" font-size="11" text-anchor="start" font-weight="normal" >Temp. 2m</text>
<text x="316" y="907" fill="#000" font-size="11" text-anchor="end" font-weight="normal" >12.5 °C</text>
<text x="212" y="923" fill="#000" font-size="11" text-anchor="start" font-weight="normal" >Feuchte A.</text>
<text x="316" y="923" fill="#000" font-size="11" text-anchor="end" font-weight="normal" >73 %</text>
<text x="330" y="907" fill="#000" font-size="11" text-anchor="start" font-weight="normal" >Luftdruck</text>
<text x="434" y="907" fill="#000" font-size="11" text-anchor="end" font-weight="normal" >1023.7 hPa</text>
<text x="330" y="923" fill="#000" font-size="11" text-anchor="start" font-weight="normal" >Regen</text>
<text x="434" y="923" fill="#000" font-size="11" text-anchor="end" font-weight="normal" >0.0 l/m²</text>
<text x="448" y="907" fill="#000" font-size="11" text-anchor="start" font-weight="normal" >Wind</text>
<text x="552" y="907" fill="#000" font-size="11" text-anchor="end" font-weight="normal" >1.4 km/h</text>
<text x="448" y="923" fill="#000" font-size="11" text-anchor="start" font-weight="normal" >Richtung</text>
<text x="552" y="923" fill="#000" font-size="11" text-anchor="end" font-weight="normal" >N</text>
<text x="1100" y="907" fill="#000" font-size="11" text-anchor="start" font-weight="normal" >WR 355°</text>
<text x="1100" y="923" fill="#000" font-size="11" text-anchor="start" font-weight="normal" >WC 12.5°C</text>
<text x="1169" y="907" fill="#000" font-size="11" text-anchor="start" font-weight="normal" >Solar</text>
<text x="1286" y="907" fill="#000" font-size="11" text-anchor="end" font-weight="normal" >0 W/m²</text>
<text x="1169" y="923" fill="#000" font-size="11" text-anchor="start" font-weight="normal" >ET</text>
<text x="1276" y="923" fill="#000" font-size="11" text-anchor="end" font-weight="normal" >0.000 mm</text>
<text x="1309" y="907" fill="#000" font-size="11" text-anchor="start" font-weight="normal" >UV</text>
<text x="1426" y="907" fill="#000" font-size="11" text-anchor="end" font-weight="normal" >0.0 UV-I</text>
<text x="1309" y="923" fill="#000" font-size="11" text-anchor="start" font-weight="normal" >Taupunkt</text>
<text x="1416" y="923" fill="#000" font-size="11" text-anchor="end" font-weight="normal" >7.8 °C</text>
</g>
<defs><linearGradient id="sky" x1="0" y1="0" x2="1" y2="1"><stop offset="0" stop-color="#3f8fcc"/><stop offset="1" stop-color="#7ab8e0"/></linearGradient></defs>
<rect x="562" y="894" width="34" height="34" fill="url(#sky)"/>
<rect x="562" y="894" width="34" height="1" fill="#101030"/><rect x="562" y="894" width="1" height="34" fill="#101030"/>
<polygon points="580.0,898.0 582.1,905.9 589.2,901.8 585.1,908.9 593.0,911.0 585.1,913.1 589.2,920.2 582.1,916.1 580.0,924.0 577.9,916.1 570.8,920.2 574.9,913.1 567.0,911.0 574.9,908.9 570.8,901.8 577.9,905.9" fill="#c8e060" opacity="0.9"/>
<circle cx="580" cy="911" r="7.5" fill="#f0f020"/>
</svg>
</body></html>
